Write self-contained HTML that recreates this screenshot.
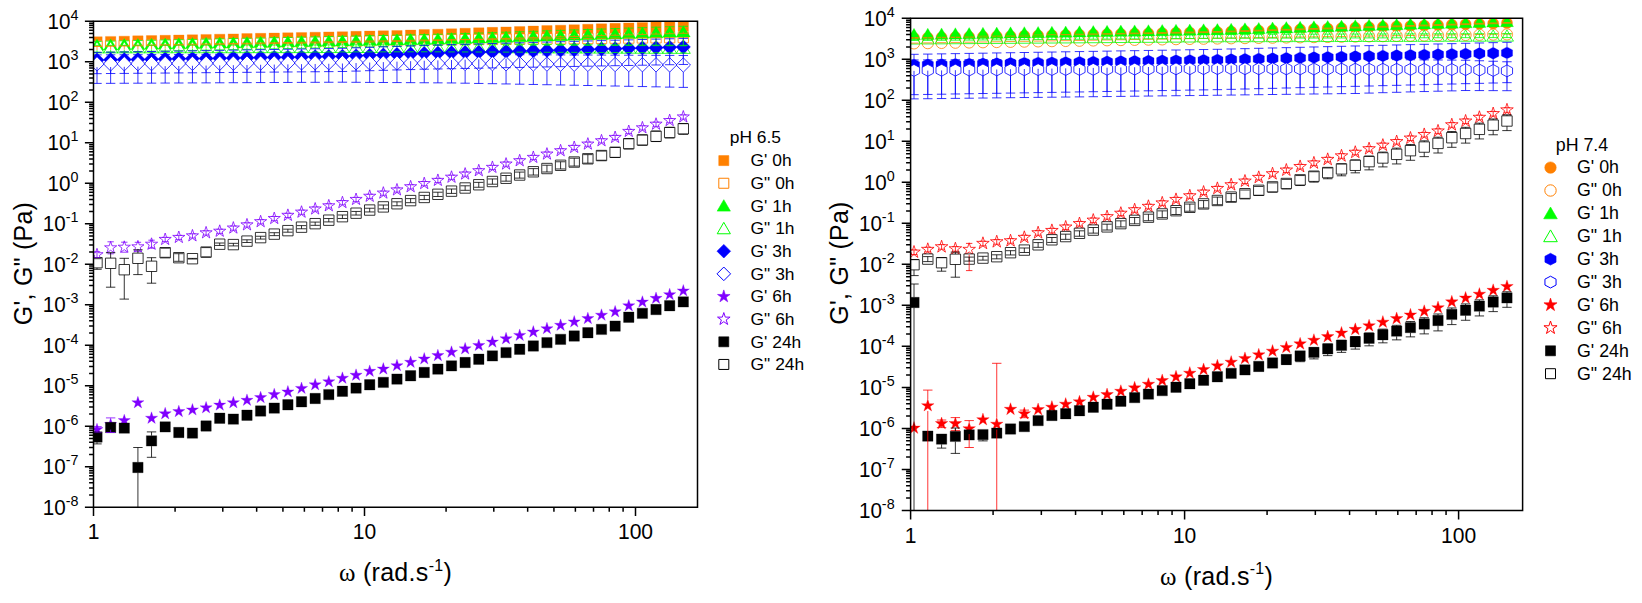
<!DOCTYPE html>
<html lang="en">
<head>
<meta charset="utf-8">
<title>G', G'' frequency sweeps at pH 6.5 and pH 7.4</title>
<style>
html,body{margin:0;padding:0;background:#fff;}
body{width:1642px;height:603px;overflow:hidden;}
svg{display:block;}
</style>
</head>
<body>
<svg width="1642" height="603" viewBox="0 0 1642 603" font-family="'Liberation Sans',Arial,sans-serif" fill="#000">
<rect width="1642" height="603" fill="#fff"/>
<clipPath id="cl"><rect x="93.5" y="21.3" width="604" height="485.9"/></clipPath>
<g clip-path="url(#cl)">
<path d="M91.8 36.7h10.4v10.4h-10.4zM105.44 36.42h10.4v10.4h-10.4zM119.07 36.14h10.4v10.4h-10.4zM132.71 35.85h10.4v10.4h-10.4zM146.34 35.57h10.4v10.4h-10.4zM159.98 35.29h10.4v10.4h-10.4zM173.61 35.01h10.4v10.4h-10.4zM187.25 34.73h10.4v10.4h-10.4zM200.88 34.45h10.4v10.4h-10.4zM214.52 34.16h10.4v10.4h-10.4zM228.15 33.88h10.4v10.4h-10.4zM241.78 33.6h10.4v10.4h-10.4zM255.42 33.32h10.4v10.4h-10.4zM269.06 33.04h10.4v10.4h-10.4zM282.69 32.75h10.4v10.4h-10.4zM296.32 32.47h10.4v10.4h-10.4zM309.96 32.19h10.4v10.4h-10.4zM323.59 31.91h10.4v10.4h-10.4zM337.23 31.63h10.4v10.4h-10.4zM350.87 31.35h10.4v10.4h-10.4zM364.5 31.06h10.4v10.4h-10.4zM378.13 30.78h10.4v10.4h-10.4zM391.77 30.5h10.4v10.4h-10.4zM405.41 30.05h10.4v10.4h-10.4zM419.04 29.6h10.4v10.4h-10.4zM432.68 29.16h10.4v10.4h-10.4zM446.31 28.71h10.4v10.4h-10.4zM459.94 28.26h10.4v10.4h-10.4zM473.58 27.81h10.4v10.4h-10.4zM487.22 27.37h10.4v10.4h-10.4zM500.85 26.92h10.4v10.4h-10.4zM514.48 26.47h10.4v10.4h-10.4zM528.12 26.02h10.4v10.4h-10.4zM541.75 25.58h10.4v10.4h-10.4zM555.39 25.13h10.4v10.4h-10.4zM569.02 24.68h10.4v10.4h-10.4zM582.66 24.23h10.4v10.4h-10.4zM596.29 23.79h10.4v10.4h-10.4zM609.93 23.34h10.4v10.4h-10.4zM623.56 22.89h10.4v10.4h-10.4zM637.2 22.44h10.4v10.4h-10.4zM650.83 22h10.4v10.4h-10.4zM664.47 21.55h10.4v10.4h-10.4zM678.1 21.1h10.4v10.4h-10.4z" fill="#ff8000" stroke="#ff8000" stroke-width="0.3"/>
<path d="M91.8 40.8h10.4v10.4h-10.4zM105.44 40.55h10.4v10.4h-10.4zM119.07 40.31h10.4v10.4h-10.4zM132.71 40.06h10.4v10.4h-10.4zM146.34 39.82h10.4v10.4h-10.4zM159.98 39.57h10.4v10.4h-10.4zM173.61 39.32h10.4v10.4h-10.4zM187.25 39.08h10.4v10.4h-10.4zM200.88 38.83h10.4v10.4h-10.4zM214.52 38.59h10.4v10.4h-10.4zM228.15 38.34h10.4v10.4h-10.4zM241.78 38.1h10.4v10.4h-10.4zM255.42 37.85h10.4v10.4h-10.4zM269.06 37.6h10.4v10.4h-10.4zM282.69 37.36h10.4v10.4h-10.4zM296.32 37.11h10.4v10.4h-10.4zM309.96 36.87h10.4v10.4h-10.4zM323.59 36.62h10.4v10.4h-10.4zM337.23 36.37h10.4v10.4h-10.4zM350.87 36.13h10.4v10.4h-10.4zM364.5 35.88h10.4v10.4h-10.4zM378.13 35.64h10.4v10.4h-10.4zM391.77 35.39h10.4v10.4h-10.4zM405.41 35.14h10.4v10.4h-10.4zM419.04 34.9h10.4v10.4h-10.4zM432.68 34.72h10.4v10.4h-10.4zM446.31 34.58h10.4v10.4h-10.4zM459.94 34.45h10.4v10.4h-10.4zM473.58 34.32h10.4v10.4h-10.4zM487.22 34.18h10.4v10.4h-10.4zM500.85 34.05h10.4v10.4h-10.4zM514.48 33.91h10.4v10.4h-10.4zM528.12 33.78h10.4v10.4h-10.4zM541.75 33.64h10.4v10.4h-10.4zM555.39 33.51h10.4v10.4h-10.4zM569.02 33.38h10.4v10.4h-10.4zM582.66 33.24h10.4v10.4h-10.4zM596.29 33.11h10.4v10.4h-10.4zM609.93 32.97h10.4v10.4h-10.4zM623.56 32.84h10.4v10.4h-10.4zM637.2 32.7h10.4v10.4h-10.4zM650.83 32.57h10.4v10.4h-10.4zM664.47 32.43h10.4v10.4h-10.4zM678.1 32.3h10.4v10.4h-10.4z" fill="#fff" stroke="#ff8000" stroke-width="0.8"/>
<path d="M97 39.1L104 50.3L90 50.3zM110.64 38.86L117.64 50.06L103.64 50.06zM124.27 38.62L131.27 49.82L117.27 49.82zM137.91 38.38L144.91 49.58L130.91 49.58zM151.54 38.13L158.54 49.33L144.54 49.33zM165.18 37.89L172.18 49.09L158.18 49.09zM178.81 37.65L185.81 48.85L171.81 48.85zM192.44 37.41L199.44 48.61L185.44 48.61zM206.08 37.17L213.08 48.37L199.08 48.37zM219.72 36.92L226.72 48.12L212.72 48.12zM233.35 36.68L240.35 47.88L226.35 47.88zM246.98 36.44L253.98 47.64L239.98 47.64zM260.62 36.2L267.62 47.4L253.62 47.4zM274.25 35.96L281.25 47.16L267.25 47.16zM287.89 35.72L294.89 46.92L280.89 46.92zM301.52 35.48L308.52 46.68L294.52 46.68zM315.16 35.23L322.16 46.43L308.16 46.43zM328.79 34.99L335.79 46.19L321.79 46.19zM342.43 34.75L349.43 45.95L335.43 45.95zM356.06 34.51L363.06 45.71L349.06 45.71zM369.7 34.27L376.7 45.47L362.7 45.47zM383.33 34.02L390.33 45.23L376.33 45.23zM396.97 33.78L403.97 44.98L389.97 44.98zM410.61 33.54L417.61 44.74L403.61 44.74zM424.24 33.3L431.24 44.5L417.24 44.5zM437.88 32.94L444.88 44.14L430.88 44.14zM451.51 32.58L458.51 43.78L444.51 43.78zM465.14 32.22L472.14 43.42L458.14 43.42zM478.78 31.86L485.78 43.06L471.78 43.06zM492.42 31.5L499.42 42.7L485.42 42.7zM506.05 31.09L513.05 42.29L499.05 42.29zM519.68 30.67L526.68 41.87L512.68 41.87zM533.32 30.26L540.32 41.46L526.32 41.46zM546.95 29.84L553.95 41.04L539.95 41.04zM560.59 29.43L567.59 40.63L553.59 40.63zM574.22 29.01L581.22 40.21L567.22 40.21zM587.86 28.6L594.86 39.8L580.86 39.8zM601.5 28.19L608.5 39.39L594.5 39.39zM615.13 27.77L622.13 38.97L608.13 38.97zM628.76 27.36L635.76 38.56L621.76 38.56zM642.4 26.94L649.4 38.14L635.4 38.14zM656.03 26.53L663.03 37.73L649.03 37.73zM669.67 26.11L676.67 37.31L662.67 37.31zM683.3 25.7L690.3 36.9L676.3 36.9z" fill="#00ff00" stroke="#00ff00" stroke-width="0.3"/>
<path d="M97 41.7L104 52.9L90 52.9zM110.64 41.68L117.64 52.88L103.64 52.88zM124.27 41.66L131.27 52.86L117.27 52.86zM137.91 41.64L144.91 52.84L130.91 52.84zM151.54 41.62L158.54 52.82L144.54 52.82zM165.18 41.6L172.18 52.8L158.18 52.8zM178.81 41.57L185.81 52.77L171.81 52.77zM192.44 41.55L199.44 52.75L185.44 52.75zM206.08 41.53L213.08 52.73L199.08 52.73zM219.72 41.51L226.72 52.71L212.72 52.71zM233.35 41.49L240.35 52.69L226.35 52.69zM246.98 41.47L253.98 52.67L239.98 52.67zM260.62 41.45L267.62 52.65L253.62 52.65zM274.25 41.43L281.25 52.63L267.25 52.63zM287.89 41.41L294.89 52.61L280.89 52.61zM301.52 41.39L308.52 52.59L294.52 52.59zM315.16 41.37L322.16 52.57L308.16 52.57zM328.79 41.35L335.79 52.55L321.79 52.55zM342.43 41.32L349.43 52.52L335.43 52.52zM356.06 41.3L363.06 52.5L349.06 52.5zM369.7 41.28L376.7 52.48L362.7 52.48zM383.33 41.26L390.33 52.46L376.33 52.46zM396.97 41.24L403.97 52.44L389.97 52.44zM410.61 41.22L417.61 52.42L403.61 52.42zM424.24 41.2L431.24 52.4L417.24 52.4zM437.88 41.25L444.88 52.45L430.88 52.45zM451.51 41.31L458.51 52.51L444.51 52.51zM465.14 41.36L472.14 52.56L458.14 52.56zM478.78 41.41L485.78 52.61L471.78 52.61zM492.42 41.46L499.42 52.66L485.42 52.66zM506.05 41.52L513.05 52.72L499.05 52.72zM519.68 41.57L526.68 52.77L512.68 52.77zM533.32 41.62L540.32 52.82L526.32 52.82zM546.95 41.67L553.95 52.87L539.95 52.87zM560.59 41.73L567.59 52.93L553.59 52.93zM574.22 41.78L581.22 52.98L567.22 52.98zM587.86 41.83L594.86 53.03L580.86 53.03zM601.5 41.88L608.5 53.08L594.5 53.08zM615.13 41.94L622.13 53.14L608.13 53.14zM628.76 41.99L635.76 53.19L621.76 53.19zM642.4 42.04L649.4 53.24L635.4 53.24zM656.03 42.09L663.03 53.29L649.03 53.29zM669.67 42.15L676.67 53.35L662.67 53.35zM683.3 42.2L690.3 53.4L676.3 53.4z" fill="#fff" stroke="#00ff00" stroke-width="0.8"/>
<path d="M97 52.8L104.2 60L97 67.2L89.8 60zM110.64 52.6L117.84 59.8L110.64 67L103.44 59.8zM124.27 52.4L131.47 59.6L124.27 66.8L117.07 59.6zM137.91 52.19L145.1 59.39L137.91 66.59L130.71 59.39zM151.54 51.99L158.74 59.19L151.54 66.39L144.34 59.19zM165.18 51.79L172.38 58.99L165.18 66.19L157.98 58.99zM178.81 51.59L186.01 58.79L178.81 65.99L171.61 58.79zM192.44 51.38L199.64 58.58L192.44 65.78L185.25 58.58zM206.08 51.18L213.28 58.38L206.08 65.58L198.88 58.38zM219.72 50.98L226.91 58.18L219.72 65.38L212.52 58.18zM233.35 50.78L240.55 57.98L233.35 65.18L226.15 57.98zM246.98 50.58L254.18 57.78L246.98 64.98L239.78 57.78zM260.62 50.37L267.82 57.57L260.62 64.77L253.42 57.57zM274.25 50.17L281.45 57.37L274.25 64.57L267.06 57.37zM287.89 49.97L295.09 57.17L287.89 64.37L280.69 57.17zM301.52 49.77L308.72 56.97L301.52 64.17L294.32 56.97zM315.16 49.56L322.36 56.76L315.16 63.96L307.96 56.76zM328.79 49.36L335.99 56.56L328.79 63.76L321.59 56.56zM342.43 49.11L349.63 56.31L342.43 63.51L335.23 56.31zM356.06 48.64L363.26 55.84L356.06 63.04L348.87 55.84zM369.7 48.17L376.9 55.37L369.7 62.57L362.5 55.37zM383.33 47.7L390.53 54.9L383.33 62.1L376.13 54.9zM396.97 47.24L404.17 54.44L396.97 61.64L389.77 54.44zM410.61 46.77L417.81 53.97L410.61 61.17L403.41 53.97zM424.24 46.3L431.44 53.5L424.24 60.7L417.04 53.5zM437.88 45.96L445.07 53.16L437.88 60.36L430.68 53.16zM451.51 45.62L458.71 52.82L451.51 60.02L444.31 52.82zM465.14 45.27L472.34 52.47L465.14 59.67L457.94 52.47zM478.78 44.93L485.98 52.13L478.78 59.33L471.58 52.13zM492.42 44.59L499.62 51.79L492.42 58.99L485.22 51.79zM506.05 44.25L513.25 51.45L506.05 58.65L498.85 51.45zM519.68 43.91L526.88 51.11L519.68 58.31L512.48 51.11zM533.32 43.56L540.52 50.76L533.32 57.96L526.12 50.76zM546.95 43.22L554.15 50.42L546.95 57.62L539.75 50.42zM560.59 42.88L567.79 50.08L560.59 57.28L553.39 50.08zM574.22 42.54L581.42 49.74L574.22 56.94L567.02 49.74zM587.86 42.19L595.06 49.39L587.86 56.59L580.66 49.39zM601.5 41.85L608.7 49.05L601.5 56.25L594.29 49.05zM615.13 41.51L622.33 48.71L615.13 55.91L607.93 48.71zM628.76 41.17L635.97 48.37L628.76 55.57L621.56 48.37zM642.4 40.83L649.6 48.03L642.4 55.23L635.2 48.03zM656.03 40.48L663.24 47.68L656.03 54.88L648.83 47.68zM669.67 40.14L676.87 47.34L669.67 54.54L662.47 47.34zM683.3 39.8L690.5 47L683.3 54.2L676.1 47z" fill="#0000ff" stroke="#0000ff" stroke-width="0.3"/>
<path d="M97 56.7L104.2 63.9L97 71.1L89.8 63.9zM110.64 56.63L117.84 63.83L110.64 71.03L103.44 63.83zM124.27 56.57L131.47 63.77L124.27 70.97L117.07 63.77zM137.91 56.5L145.1 63.7L137.91 70.9L130.71 63.7zM151.54 56.43L158.74 63.63L151.54 70.83L144.34 63.63zM165.18 56.36L172.38 63.56L165.18 70.76L157.98 63.56zM178.81 56.3L186.01 63.5L178.81 70.7L171.61 63.5zM192.44 56.23L199.64 63.43L192.44 70.63L185.25 63.43zM206.08 56.16L213.28 63.36L206.08 70.56L198.88 63.36zM219.72 56.09L226.91 63.29L219.72 70.49L212.52 63.29zM233.35 56.03L240.55 63.23L233.35 70.43L226.15 63.23zM246.98 55.96L254.18 63.16L246.98 70.36L239.78 63.16zM260.62 55.89L267.82 63.09L260.62 70.29L253.42 63.09zM274.25 55.82L281.45 63.02L274.25 70.22L267.06 63.02zM287.89 55.76L295.09 62.96L287.89 70.16L280.69 62.96zM301.52 55.69L308.72 62.89L301.52 70.09L294.32 62.89zM315.16 55.62L322.36 62.82L315.16 70.02L307.96 62.82zM328.79 55.55L335.99 62.75L328.79 69.95L321.59 62.75zM342.43 55.52L349.63 62.72L342.43 69.92L335.23 62.72zM356.06 55.61L363.26 62.81L356.06 70.01L348.87 62.81zM369.7 55.7L376.9 62.9L369.7 70.1L362.5 62.9zM383.33 55.79L390.53 62.99L383.33 70.19L376.13 62.99zM396.97 55.88L404.17 63.08L396.97 70.28L389.77 63.08zM410.61 55.97L417.81 63.17L410.61 70.37L403.41 63.17zM424.24 56.07L431.44 63.27L424.24 70.47L417.04 63.27zM437.88 56.16L445.07 63.36L437.88 70.56L430.68 63.36zM451.51 56.25L458.71 63.45L451.51 70.65L444.31 63.45zM465.14 56.34L472.34 63.54L465.14 70.74L457.94 63.54zM478.78 56.43L485.98 63.63L478.78 70.83L471.58 63.63zM492.42 56.52L499.62 63.72L492.42 70.92L485.22 63.72zM506.05 56.61L513.25 63.81L506.05 71.01L498.85 63.81zM519.68 56.7L526.88 63.9L519.68 71.1L512.48 63.9zM533.32 56.8L540.52 64L533.32 71.2L526.12 64zM546.95 56.89L554.15 64.09L546.95 71.29L539.75 64.09zM560.59 56.98L567.79 64.18L560.59 71.38L553.39 64.18zM574.22 57.07L581.42 64.27L574.22 71.47L567.02 64.27zM587.86 57.16L595.06 64.36L587.86 71.56L580.66 64.36zM601.5 57.25L608.7 64.45L601.5 71.65L594.29 64.45zM615.13 57.34L622.33 64.54L615.13 71.74L607.93 64.54zM628.76 57.43L635.97 64.63L628.76 71.83L621.56 64.63zM642.4 57.53L649.6 64.73L642.4 71.93L635.2 64.73zM656.03 57.62L663.24 64.82L656.03 72.02L648.83 64.82zM669.67 57.71L676.87 64.91L669.67 72.11L662.47 64.91zM683.3 57.8L690.5 65L683.3 72.2L676.1 65z" fill="#fff" stroke="#0000ff" stroke-width="0.8"/>
<path d="M97 423.2L98.44 427.62L103.09 427.62L99.33 430.36L100.76 434.78L97 432.04L93.24 434.78L94.67 430.36L90.91 427.62L95.56 427.62zM110.64 418.1L112.07 422.52L116.72 422.52L112.96 425.26L114.4 429.68L110.64 426.94L106.87 429.68L108.31 425.26L104.55 422.52L109.2 422.52zM124.27 414.2L125.71 418.62L130.36 418.62L126.6 421.36L128.03 425.78L124.27 423.04L120.51 425.78L121.94 421.36L118.18 418.62L122.83 418.62zM137.91 396.3L139.34 400.72L143.99 400.72L140.23 403.46L141.67 407.88L137.91 405.14L134.14 407.88L135.58 403.46L131.82 400.72L136.47 400.72zM151.54 411.8L152.98 416.22L157.63 416.22L153.87 418.96L155.3 423.38L151.54 420.64L147.78 423.38L149.21 418.96L145.45 416.22L150.1 416.22zM165.18 407.3L166.61 411.72L171.26 411.72L167.5 414.46L168.94 418.88L165.18 416.14L161.41 418.88L162.85 414.46L159.09 411.72L163.74 411.72zM178.81 405.2L180.25 409.62L184.9 409.62L181.14 412.36L182.57 416.78L178.81 414.04L175.05 416.78L176.48 412.36L172.72 409.62L177.37 409.62zM192.44 403.5L193.88 407.92L198.53 407.92L194.77 410.66L196.21 415.08L192.44 412.34L188.68 415.08L190.12 410.66L186.36 407.92L191.01 407.92zM206.08 401.4L207.52 405.82L212.17 405.82L208.41 408.56L209.84 412.98L206.08 410.24L202.32 412.98L203.75 408.56L199.99 405.82L204.64 405.82zM219.72 398.7L221.15 403.12L225.8 403.12L222.04 405.86L223.48 410.28L219.72 407.54L215.95 410.28L217.39 405.86L213.63 403.12L218.28 403.12zM233.35 396.3L234.79 400.72L239.44 400.72L235.68 403.46L237.11 407.88L233.35 405.14L229.59 407.88L231.02 403.46L227.26 400.72L231.91 400.72zM246.98 393.9L248.42 398.32L253.07 398.32L249.31 401.06L250.75 405.48L246.98 402.74L243.22 405.48L244.66 401.06L240.9 398.32L245.55 398.32zM260.62 391.2L262.06 395.62L266.71 395.62L262.95 398.36L264.38 402.78L260.62 400.04L256.86 402.78L258.29 398.36L254.53 395.62L259.18 395.62zM274.25 388.2L275.69 392.62L280.34 392.62L276.58 395.36L278.02 399.78L274.25 397.04L270.49 399.78L271.93 395.36L268.17 392.62L272.82 392.62zM287.89 385.5L289.33 389.92L293.98 389.92L290.22 392.66L291.65 397.08L287.89 394.34L284.13 397.08L285.56 392.66L281.8 389.92L286.45 389.92zM301.52 382L302.96 386.42L307.61 386.42L303.85 389.16L305.29 393.58L301.52 390.84L297.76 393.58L299.2 389.16L295.44 386.42L300.09 386.42zM315.16 378.4L316.6 382.82L321.25 382.82L317.49 385.56L318.92 389.98L315.16 387.24L311.4 389.98L312.83 385.56L309.07 382.82L313.72 382.82zM328.79 375.4L330.23 379.82L334.88 379.82L331.12 382.56L332.56 386.98L328.79 384.24L325.03 386.98L326.47 382.56L322.71 379.82L327.36 379.82zM342.43 371.8L343.87 376.22L348.52 376.22L344.76 378.96L346.19 383.38L342.43 380.64L338.67 383.38L340.1 378.96L336.34 376.22L340.99 376.22zM356.06 368.8L357.5 373.22L362.15 373.22L358.39 375.96L359.83 380.38L356.06 377.64L352.3 380.38L353.74 375.96L349.98 373.22L354.63 373.22zM369.7 364.9L371.14 369.32L375.79 369.32L372.03 372.06L373.46 376.48L369.7 373.74L365.94 376.48L367.37 372.06L363.61 369.32L368.26 369.32zM383.33 362.6L384.77 367.02L389.42 367.02L385.66 369.76L387.1 374.18L383.33 371.44L379.57 374.18L381.01 369.76L377.25 367.02L381.9 367.02zM396.97 359.24L398.41 363.66L403.06 363.66L399.3 366.39L400.73 370.81L396.97 368.08L393.21 370.81L394.64 366.39L390.88 363.66L395.53 363.66zM410.61 355.87L412.04 360.29L416.69 360.29L412.93 363.03L414.37 367.45L410.61 364.72L406.84 367.45L408.28 363.03L404.52 360.29L409.17 360.29zM424.24 352.51L425.68 356.93L430.33 356.93L426.57 359.66L428 364.08L424.24 361.35L420.48 364.08L421.91 359.66L418.15 356.93L422.8 356.93zM437.88 349.14L439.31 353.56L443.96 353.56L440.2 356.3L441.64 360.72L437.88 357.99L434.11 360.72L435.55 356.3L431.79 353.56L436.44 353.56zM451.51 345.78L452.95 350.2L457.6 350.2L453.84 352.93L455.27 357.35L451.51 354.62L447.75 357.35L449.18 352.93L445.42 350.2L450.07 350.2zM465.14 342.41L466.58 346.83L471.23 346.83L467.47 349.57L468.91 353.99L465.14 351.26L461.38 353.99L462.82 349.57L459.06 346.83L463.71 346.83zM478.78 339.05L480.22 343.47L484.87 343.47L481.11 346.2L482.54 350.62L478.78 347.89L475.02 350.62L476.45 346.2L472.69 343.47L477.34 343.47zM492.42 335.68L493.85 340.1L498.5 340.1L494.74 342.84L496.18 347.26L492.42 344.53L488.65 347.26L490.09 342.84L486.33 340.1L490.98 340.1zM506.05 332.32L507.49 336.74L512.14 336.74L508.38 339.47L509.81 343.9L506.05 341.16L502.29 343.9L503.72 339.47L499.96 336.74L504.61 336.74zM519.68 328.95L521.12 333.38L525.77 333.38L522.01 336.11L523.45 340.53L519.68 337.8L515.92 340.53L517.36 336.11L513.6 333.38L518.25 333.38zM533.32 325.59L534.76 330.01L539.41 330.01L535.65 332.74L537.08 337.17L533.32 334.43L529.56 337.17L530.99 332.74L527.23 330.01L531.88 330.01zM546.95 322.22L548.39 326.65L553.04 326.65L549.28 329.38L550.72 333.8L546.95 331.07L543.19 333.8L544.63 329.38L540.87 326.65L545.52 326.65zM560.59 318.86L562.03 323.28L566.68 323.28L562.92 326.01L564.35 330.44L560.59 327.7L556.83 330.44L558.26 326.01L554.5 323.28L559.15 323.28zM574.22 315.49L575.66 319.92L580.31 319.92L576.55 322.65L577.99 327.07L574.22 324.34L570.46 327.07L571.9 322.65L568.14 319.92L572.79 319.92zM587.86 312.13L589.3 316.55L593.95 316.55L590.19 319.28L591.62 323.71L587.86 320.97L584.1 323.71L585.53 319.28L581.77 316.55L586.42 316.55zM601.5 308.76L602.93 313.19L607.58 313.19L603.82 315.92L605.26 320.34L601.5 317.61L597.73 320.34L599.17 315.92L595.41 313.19L600.06 313.19zM615.13 305.4L616.57 309.82L621.22 309.82L617.46 312.56L618.89 316.98L615.13 314.24L611.37 316.98L612.8 312.56L609.04 309.82L613.69 309.82zM628.76 299.4L630.2 303.82L634.85 303.82L631.09 306.56L632.53 310.98L628.76 308.24L625 310.98L626.44 306.56L622.68 303.82L627.33 303.82zM642.4 295.68L643.84 300.1L648.49 300.1L644.73 302.83L646.16 307.25L642.4 304.52L638.64 307.25L640.07 302.83L636.31 300.1L640.96 300.1zM656.03 291.95L657.47 296.37L662.12 296.37L658.36 299.11L659.8 303.53L656.03 300.79L652.27 303.53L653.71 299.11L649.95 296.37L654.6 296.37zM669.67 288.23L671.11 292.65L675.76 292.65L672 295.38L673.43 299.8L669.67 297.07L665.91 299.8L667.34 295.38L663.58 292.65L668.23 292.65zM683.3 284.5L684.74 288.92L689.39 288.92L685.63 291.66L687.07 296.08L683.3 293.34L679.54 296.08L680.98 291.66L677.22 288.92L681.87 288.92z" fill="#8000ff" stroke="#8000ff" stroke-width="0.3"/>
<path d="M97 248.3L98.44 252.72L103.09 252.72L99.33 255.46L100.76 259.88L97 257.14L93.24 259.88L94.67 255.46L90.91 252.72L95.56 252.72zM110.64 241.4L112.07 245.82L116.72 245.82L112.96 248.56L114.4 252.98L110.64 250.24L106.87 252.98L108.31 248.56L104.55 245.82L109.2 245.82zM124.27 240.8L125.71 245.22L130.36 245.22L126.6 247.96L128.03 252.38L124.27 249.64L120.51 252.38L121.94 247.96L118.18 245.22L122.83 245.22zM137.91 240.4L139.34 244.82L143.99 244.82L140.23 247.56L141.67 251.98L137.91 249.24L134.14 251.98L135.58 247.56L131.82 244.82L136.47 244.82zM151.54 237.8L152.98 242.22L157.63 242.22L153.87 244.96L155.3 249.38L151.54 246.64L147.78 249.38L149.21 244.96L145.45 242.22L150.1 242.22zM165.18 233L166.61 237.42L171.26 237.42L167.5 240.16L168.94 244.58L165.18 241.84L161.41 244.58L162.85 240.16L159.09 237.42L163.74 237.42zM178.81 231L180.25 235.42L184.9 235.42L181.14 238.16L182.57 242.58L178.81 239.84L175.05 242.58L176.48 238.16L172.72 235.42L177.37 235.42zM192.44 229.4L193.88 233.82L198.53 233.82L194.77 236.56L196.21 240.98L192.44 238.24L188.68 240.98L190.12 236.56L186.36 233.82L191.01 233.82zM206.08 226.4L207.52 230.82L212.17 230.82L208.41 233.56L209.84 237.98L206.08 235.24L202.32 237.98L203.75 233.56L199.99 230.82L204.64 230.82zM219.72 224.8L221.15 229.22L225.8 229.22L222.04 231.96L223.48 236.38L219.72 233.64L215.95 236.38L217.39 231.96L213.63 229.22L218.28 229.22zM233.35 221.6L234.79 226.02L239.44 226.02L235.68 228.76L237.11 233.18L233.35 230.44L229.59 233.18L231.02 228.76L227.26 226.02L231.91 226.02zM246.98 218.42L248.42 222.85L253.07 222.85L249.31 225.58L250.75 230L246.98 227.27L243.22 230L244.66 225.58L240.9 222.85L245.55 222.85zM260.62 215.25L262.06 219.67L266.71 219.67L262.95 222.4L264.38 226.82L260.62 224.09L256.86 226.82L258.29 222.4L254.53 219.67L259.18 219.67zM274.25 212.07L275.69 216.49L280.34 216.49L276.58 219.23L278.02 223.65L274.25 220.92L270.49 223.65L271.93 219.23L268.17 216.49L272.82 216.49zM287.89 208.89L289.33 213.32L293.98 213.32L290.22 216.05L291.65 220.47L287.89 217.74L284.13 220.47L285.56 216.05L281.8 213.32L286.45 213.32zM301.52 205.72L302.96 210.14L307.61 210.14L303.85 212.87L305.29 217.3L301.52 214.56L297.76 217.3L299.2 212.87L295.44 210.14L300.09 210.14zM315.16 202.54L316.6 206.96L321.25 206.96L317.49 209.7L318.92 214.12L315.16 211.39L311.4 214.12L312.83 209.7L309.07 206.96L313.72 206.96zM328.79 199.36L330.23 203.79L334.88 203.79L331.12 206.52L332.56 210.94L328.79 208.21L325.03 210.94L326.47 206.52L322.71 203.79L327.36 203.79zM342.43 196.19L343.87 200.61L348.52 200.61L344.76 203.34L346.19 207.77L342.43 205.03L338.67 207.77L340.1 203.34L336.34 200.61L340.99 200.61zM356.06 193.01L357.5 197.43L362.15 197.43L358.39 200.17L359.83 204.59L356.06 201.86L352.3 204.59L353.74 200.17L349.98 197.43L354.63 197.43zM369.7 189.84L371.14 194.26L375.79 194.26L372.03 196.99L373.46 201.41L369.7 198.68L365.94 201.41L367.37 196.99L363.61 194.26L368.26 194.26zM383.33 186.66L384.77 191.08L389.42 191.08L385.66 193.81L387.1 198.24L383.33 195.5L379.57 198.24L381.01 193.81L377.25 191.08L381.9 191.08zM396.97 183.48L398.41 187.9L403.06 187.9L399.3 190.64L400.73 195.06L396.97 192.33L393.21 195.06L394.64 190.64L390.88 187.9L395.53 187.9zM410.61 180.31L412.04 184.73L416.69 184.73L412.93 187.46L414.37 191.88L410.61 189.15L406.84 191.88L408.28 187.46L404.52 184.73L409.17 184.73zM424.24 177.13L425.68 181.55L430.33 181.55L426.57 184.28L428 188.71L424.24 185.97L420.48 188.71L421.91 184.28L418.15 181.55L422.8 181.55zM437.88 173.95L439.31 178.38L443.96 178.38L440.2 181.11L441.64 185.53L437.88 182.8L434.11 185.53L435.55 181.11L431.79 178.38L436.44 178.38zM451.51 170.78L452.95 175.2L457.6 175.2L453.84 177.93L455.27 182.35L451.51 179.62L447.75 182.35L449.18 177.93L445.42 175.2L450.07 175.2zM465.14 167.6L466.58 172.02L471.23 172.02L467.47 174.76L468.91 179.18L465.14 176.44L461.38 179.18L462.82 174.76L459.06 172.02L463.71 172.02zM478.78 164.27L480.22 168.69L484.87 168.7L481.11 171.43L482.54 175.85L478.78 173.12L475.02 175.85L476.45 171.43L472.69 168.7L477.34 168.69zM492.42 160.95L493.85 165.37L498.5 165.37L494.74 168.1L496.18 172.52L492.42 169.79L488.65 172.52L490.09 168.1L486.33 165.37L490.98 165.37zM506.05 157.62L507.49 162.04L512.14 162.04L508.38 164.77L509.81 169.2L506.05 166.46L502.29 169.2L503.72 164.77L499.96 162.04L504.61 162.04zM519.68 154.29L521.12 158.71L525.77 158.71L522.01 161.45L523.45 165.87L519.68 163.14L515.92 165.87L517.36 161.45L513.6 158.71L518.25 158.71zM533.32 150.96L534.76 155.39L539.41 155.39L535.65 158.12L537.08 162.54L533.32 159.81L529.56 162.54L530.99 158.12L527.23 155.39L531.88 155.39zM546.95 147.64L548.39 152.06L553.04 152.06L549.28 154.79L550.72 159.21L546.95 156.48L543.19 159.21L544.63 154.79L540.87 152.06L545.52 152.06zM560.59 144.31L562.03 148.73L566.68 148.73L562.92 151.46L564.35 155.89L560.59 153.15L556.83 155.89L558.26 151.46L554.5 148.73L559.15 148.73zM574.22 140.98L575.66 145.4L580.31 145.4L576.55 148.14L577.99 152.56L574.22 149.83L570.46 152.56L571.9 148.14L568.14 145.4L572.79 145.4zM587.86 137.65L589.3 142.08L593.95 142.08L590.19 144.81L591.62 149.23L587.86 146.5L584.1 149.23L585.53 144.81L581.77 142.08L586.42 142.08zM601.5 134.33L602.93 138.75L607.58 138.75L603.82 141.48L605.26 145.9L601.5 143.17L597.73 145.9L599.17 141.48L595.41 138.75L600.06 138.75zM615.13 131L616.57 135.42L621.22 135.42L617.46 138.16L618.89 142.58L615.13 139.84L611.37 142.58L612.8 138.16L609.04 135.42L613.69 135.42zM628.76 125L630.2 129.42L634.85 129.42L631.09 132.16L632.53 136.58L628.76 133.84L625 136.58L626.44 132.16L622.68 129.42L627.33 129.42zM642.4 121.38L643.84 125.8L648.49 125.8L644.73 128.53L646.16 132.95L642.4 130.22L638.64 132.95L640.07 128.53L636.31 125.8L640.96 125.8zM656.03 117.75L657.47 122.17L662.12 122.17L658.36 124.91L659.8 129.33L656.03 126.59L652.27 129.33L653.71 124.91L649.95 122.17L654.6 122.17zM669.67 114.12L671.11 118.55L675.76 118.55L672 121.28L673.43 125.7L669.67 122.97L665.91 125.7L667.34 121.28L663.58 118.55L668.23 118.55zM683.3 110.5L684.74 114.92L689.39 114.92L685.63 117.66L687.07 122.08L683.3 119.34L679.54 122.08L680.98 117.66L677.22 114.92L681.87 114.92z" fill="#fff" stroke="#8000ff" stroke-width="0.8"/>
<path d="M91.8 431.8h10.4v10.4h-10.4zM105.44 422.3h10.4v10.4h-10.4zM119.07 422.9h10.4v10.4h-10.4zM132.71 462.3h10.4v10.4h-10.4zM146.34 435.7h10.4v10.4h-10.4zM159.98 421.7h10.4v10.4h-10.4zM173.61 427.3h10.4v10.4h-10.4zM187.25 427.9h10.4v10.4h-10.4zM200.88 420.8h10.4v10.4h-10.4zM214.52 413h10.4v10.4h-10.4zM228.15 413.9h10.4v10.4h-10.4zM241.78 410h10.4v10.4h-10.4zM255.42 405.8h10.4v10.4h-10.4zM269.06 402.9h10.4v10.4h-10.4zM282.69 399.6h10.4v10.4h-10.4zM296.32 396.6h10.4v10.4h-10.4zM309.96 393.3h10.4v10.4h-10.4zM323.59 389.4h10.4v10.4h-10.4zM337.23 386.1h10.4v10.4h-10.4zM350.87 382.9h10.4v10.4h-10.4zM364.5 379.6h10.4v10.4h-10.4zM378.13 377.2h10.4v10.4h-10.4zM391.77 373.89h10.4v10.4h-10.4zM405.41 370.58h10.4v10.4h-10.4zM419.04 367.26h10.4v10.4h-10.4zM432.68 363.95h10.4v10.4h-10.4zM446.31 360.64h10.4v10.4h-10.4zM459.94 357.33h10.4v10.4h-10.4zM473.58 354.02h10.4v10.4h-10.4zM487.22 350.71h10.4v10.4h-10.4zM500.85 347.39h10.4v10.4h-10.4zM514.48 344.08h10.4v10.4h-10.4zM528.12 340.77h10.4v10.4h-10.4zM541.75 337.46h10.4v10.4h-10.4zM555.39 334.15h10.4v10.4h-10.4zM569.02 330.84h10.4v10.4h-10.4zM582.66 327.52h10.4v10.4h-10.4zM596.29 324.21h10.4v10.4h-10.4zM609.93 320.9h10.4v10.4h-10.4zM623.56 312h10.4v10.4h-10.4zM637.2 308.18h10.4v10.4h-10.4zM650.83 304.35h10.4v10.4h-10.4zM664.47 300.52h10.4v10.4h-10.4zM678.1 296.7h10.4v10.4h-10.4z" fill="#000000" stroke="#000000" stroke-width="0.3"/>
<path d="M91.8 257.5h10.4v10.4h-10.4zM105.44 258.1h10.4v10.4h-10.4zM119.07 264.5h10.4v10.4h-10.4zM132.71 253.1h10.4v10.4h-10.4zM146.34 261.1h10.4v10.4h-10.4zM159.98 247.5h10.4v10.4h-10.4zM173.61 252.5h10.4v10.4h-10.4zM187.25 253.5h10.4v10.4h-10.4zM200.88 246.9h10.4v10.4h-10.4zM214.52 239h10.4v10.4h-10.4zM228.15 239.4h10.4v10.4h-10.4zM241.78 235.91h10.4v10.4h-10.4zM255.42 232.42h10.4v10.4h-10.4zM269.06 228.93h10.4v10.4h-10.4zM282.69 225.44h10.4v10.4h-10.4zM296.32 221.96h10.4v10.4h-10.4zM309.96 218.47h10.4v10.4h-10.4zM323.59 214.98h10.4v10.4h-10.4zM337.23 211.49h10.4v10.4h-10.4zM350.87 208h10.4v10.4h-10.4zM364.5 204.85h10.4v10.4h-10.4zM378.13 201.7h10.4v10.4h-10.4zM391.77 198.55h10.4v10.4h-10.4zM405.41 195.4h10.4v10.4h-10.4zM419.04 192.25h10.4v10.4h-10.4zM432.68 189.1h10.4v10.4h-10.4zM446.31 185.95h10.4v10.4h-10.4zM459.94 182.8h10.4v10.4h-10.4zM473.58 179.55h10.4v10.4h-10.4zM487.22 176.31h10.4v10.4h-10.4zM500.85 173.06h10.4v10.4h-10.4zM514.48 169.82h10.4v10.4h-10.4zM528.12 166.57h10.4v10.4h-10.4zM541.75 163.33h10.4v10.4h-10.4zM555.39 160.08h10.4v10.4h-10.4zM569.02 156.84h10.4v10.4h-10.4zM582.66 153.59h10.4v10.4h-10.4zM596.29 150.35h10.4v10.4h-10.4zM609.93 147.1h10.4v10.4h-10.4zM623.56 138.5h10.4v10.4h-10.4zM637.2 134.78h10.4v10.4h-10.4zM650.83 131.05h10.4v10.4h-10.4zM664.47 127.33h10.4v10.4h-10.4zM678.1 123.6h10.4v10.4h-10.4z" fill="#fff" stroke="#000000" stroke-width="0.8"/>
<path d="M92.3 37.9h9.4M92.3 46.5h9.4M105.94 37.62h9.4M105.94 46.28h9.4M119.57 37.34h9.4M119.57 46.05h9.4M133.21 37.05h9.4M133.21 45.83h9.4M146.84 36.77h9.4M146.84 45.61h9.4M160.48 36.49h9.4M160.48 45.38h9.4M174.11 36.21h9.4M174.11 45.16h9.4M187.75 35.93h9.4M187.75 44.94h9.4M201.38 35.65h9.4M201.38 44.71h9.4M215.02 35.36h9.4M215.02 44.49h9.4M228.65 35.08h9.4M228.65 44.27h9.4M246.98 44V44.04M242.28 34.8h9.4M242.28 44.04h9.4M260.62 43.72V43.82M255.92 34.52h9.4M255.92 43.82h9.4M274.25 43.44V43.59M269.56 34.24h9.4M269.56 43.59h9.4M287.89 43.15V43.37M283.19 33.95h9.4M283.19 43.37h9.4M301.52 42.87V43.15M296.82 33.67h9.4M296.82 43.15h9.4M315.16 42.59V42.92M310.46 33.39h9.4M310.46 42.92h9.4M328.79 42.31V42.7M324.09 33.11h9.4M324.09 42.7h9.4M342.43 42.03V42.48M337.73 32.83h9.4M337.73 42.48h9.4M356.06 41.75V42.25M351.37 32.55h9.4M351.37 42.25h9.4M369.7 41.46V42.03M365 32.26h9.4M365 42.03h9.4M383.33 41.18V41.81M378.63 31.98h9.4M378.63 41.81h9.4M396.97 40.9V41.58M392.27 31.7h9.4M392.27 41.58h9.4M410.61 40.45V41.19M405.91 31.25h9.4M405.91 41.19h9.4M424.24 40V40.8M419.54 30.8h9.4M419.54 40.8h9.4M437.88 39.56V40.41M433.18 30.36h9.4M433.18 40.41h9.4M451.51 39.11V40.01M446.81 29.91h9.4M446.81 40.01h9.4M465.14 38.66V39.62M460.44 29.46h9.4M460.44 39.62h9.4M478.78 38.21V39.22M474.08 29.01h9.4M474.08 39.22h9.4M492.42 37.77V38.83M487.72 28.57h9.4M487.72 38.83h9.4M506.05 37.32V38.43M501.35 28.12h9.4M501.35 38.43h9.4M519.68 36.87V38.04M514.98 27.67h9.4M514.98 38.04h9.4M533.32 36.42V37.64M528.62 27.22h9.4M528.62 37.64h9.4M546.95 35.98V37.25M542.25 26.78h9.4M542.25 37.25h9.4M560.59 35.53V36.85M555.89 26.33h9.4M555.89 36.85h9.4M574.22 35.08V36.46M569.52 25.88h9.4M569.52 36.46h9.4M587.86 34.63V36.06M583.16 25.43h9.4M583.16 36.06h9.4M601.5 34.19V35.67M596.79 24.99h9.4M596.79 35.67h9.4M615.13 33.74V35.27M610.43 24.54h9.4M610.43 35.27h9.4M628.76 33.29V34.88M624.06 24.09h9.4M624.06 34.88h9.4M642.4 32.84V34.48M637.7 23.64h9.4M637.7 34.48h9.4M656.03 32.4V34.09M651.33 23.2h9.4M651.33 34.09h9.4M669.67 31.95V33.69M664.97 22.75h9.4M664.97 33.69h9.4M683.3 31.5V33.3M678.6 22.3h9.4M678.6 33.3h9.4" fill="none" stroke="#ff8000" stroke-width="0.8"/>
<path d="M97 45.95V50M92.3 45.95h9.4M110.64 45.7V49.75M105.94 45.7h9.4M124.27 45.46V49.51M119.57 45.46h9.4M137.91 45.21V49.26M133.21 45.21h9.4M151.54 44.97V49.02M146.84 44.97h9.4M165.18 44.72V48.77M160.48 44.72h9.4M178.81 44.47V48.52M174.11 44.47h9.4M192.44 44.23V48.28M187.75 44.23h9.4M206.08 43.98V48.03M201.38 43.98h9.4M219.72 43.74V47.79M215.02 43.74h9.4M233.35 43.49V47.54M228.65 43.49h9.4M246.98 43.25V47.3M242.28 43.25h9.4M260.62 43V47.05M255.92 43h9.4M274.25 42.75V46.8M269.56 42.75h9.4M287.89 42.51V46.56M283.19 42.51h9.4M301.52 42.26V46.31M296.82 42.26h9.4M315.16 42.02V46.07M310.46 42.02h9.4M328.79 41.77V45.82M324.09 41.77h9.4M342.43 41.52V45.57M337.73 41.52h9.4M356.06 41.28V45.33M351.37 41.28h9.4M369.7 41.03V45.08M365 41.03h9.4M383.33 40.79V44.84M378.63 40.79h9.4M396.97 40.54V44.59M392.27 40.54h9.4M410.61 40.29V44.34M405.91 40.29h9.4M424.24 40.05V44.1M419.54 40.05h9.4M437.88 39.87V43.92M433.18 39.87h9.4M451.51 39.73V43.78M446.81 39.73h9.4M465.14 39.6V43.65M460.44 39.6h9.4M478.78 39.47V43.52M474.08 39.47h9.4M492.42 39.33V43.38M487.72 39.33h9.4M506.05 39.2V43.25M501.35 39.2h9.4M519.68 39.06V43.11M514.98 39.06h9.4M533.32 38.93V42.98M528.62 38.93h9.4M546.95 38.79V42.84M542.25 38.79h9.4M560.59 38.66V42.71M555.89 38.66h9.4M574.22 38.53V42.58M569.52 38.53h9.4M587.86 38.39V42.44M583.16 38.39h9.4M601.5 38.26V42.31M596.79 38.26h9.4M615.13 38.12V42.17M610.43 38.12h9.4M628.76 37.99V42.04M624.06 37.99h9.4M642.4 37.85V41.9M637.7 37.85h9.4M656.03 37.72V41.77M651.33 37.72h9.4M669.67 37.58V41.63M664.97 37.58h9.4M683.3 37.45V41.5M678.6 37.45h9.4" fill="none" stroke="#ff8000" stroke-width="0.8"/>
<path d="M97 50.3V52.3M92.3 41.4h9.4M92.3 52.3h9.4M110.64 50.06V52.03M105.94 41.12h9.4M105.94 52.03h9.4M124.27 49.82V51.76M119.57 40.84h9.4M119.57 51.76h9.4M137.91 49.58V51.49M133.21 40.56h9.4M133.21 51.49h9.4M151.54 49.33V51.22M146.84 40.28h9.4M146.84 51.22h9.4M165.18 49.09V50.95M160.48 39.99h9.4M160.48 50.95h9.4M178.81 48.85V50.68M174.11 39.71h9.4M174.11 50.68h9.4M192.44 48.61V50.42M187.75 39.43h9.4M187.75 50.42h9.4M206.08 48.37V50.15M201.38 39.15h9.4M201.38 50.15h9.4M219.72 48.12V49.88M215.02 38.87h9.4M215.02 49.88h9.4M233.35 47.88V49.61M228.65 38.59h9.4M228.65 49.61h9.4M246.98 47.64V49.34M242.28 38.31h9.4M242.28 49.34h9.4M260.62 47.4V49.07M255.92 38.03h9.4M255.92 49.07h9.4M274.25 47.16V48.8M269.56 37.74h9.4M269.56 48.8h9.4M287.89 46.92V48.53M283.19 37.46h9.4M283.19 48.53h9.4M301.52 46.68V48.26M296.82 37.18h9.4M296.82 48.26h9.4M315.16 46.43V47.99M310.46 36.9h9.4M310.46 47.99h9.4M328.79 46.19V47.72M324.09 36.62h9.4M324.09 47.72h9.4M342.43 45.95V47.45M337.73 36.34h9.4M337.73 47.45h9.4M356.06 45.71V47.18M351.37 36.06h9.4M351.37 47.18h9.4M369.7 45.47V46.91M365 35.78h9.4M365 46.91h9.4M383.33 45.23V46.65M378.63 35.49h9.4M378.63 46.65h9.4M396.97 44.98V46.38M392.27 35.21h9.4M392.27 46.38h9.4M410.61 44.74V46.11M405.91 34.93h9.4M405.91 46.11h9.4M424.24 44.5V45.84M419.54 34.65h9.4M419.54 45.84h9.4M437.88 44.14V45.45M433.18 34.25h9.4M433.18 45.45h9.4M451.51 43.78V45.06M446.81 33.85h9.4M446.81 45.06h9.4M465.14 43.42V44.68M460.44 33.45h9.4M460.44 44.68h9.4M478.78 43.06V44.29M474.08 33.05h9.4M474.08 44.29h9.4M492.42 42.7V43.9M487.72 32.65h9.4M487.72 43.9h9.4M506.05 42.29V44.04M501.35 32.2h9.4M501.35 44.04h9.4M519.68 41.87V44.17M514.98 31.75h9.4M514.98 44.17h9.4M533.32 41.46V44.31M528.62 31.29h9.4M528.62 44.31h9.4M546.95 41.04V44.44M542.25 30.84h9.4M542.25 44.44h9.4M560.59 40.63V44.53M555.89 30.38h9.4M555.89 44.53h9.4M574.22 40.21V44.61M569.52 29.93h9.4M569.52 44.61h9.4M587.86 39.8V44.7M583.16 29.48h9.4M583.16 44.7h9.4M601.5 39.39V44.79M596.79 29.02h9.4M596.79 44.79h9.4M615.13 38.97V44.87M610.43 28.57h9.4M610.43 44.87h9.4M628.76 38.56V44.96M624.06 28.12h9.4M624.06 44.96h9.4M642.4 38.14V45.04M637.7 27.66h9.4M637.7 45.04h9.4M656.03 37.73V45.13M651.33 27.21h9.4M651.33 45.13h9.4M669.67 37.31V45.21M664.97 26.75h9.4M664.97 45.21h9.4M683.3 36.9V45.3M678.6 26.3h9.4M678.6 45.3h9.4" fill="none" stroke="#00ff00" stroke-width="0.8"/>
<path d="M93.8 45.3h6.4M93.8 52.3h6.4M107.44 45.28h6.4M107.44 52.28h6.4M121.07 45.26h6.4M121.07 52.26h6.4M134.71 45.24h6.4M134.71 52.24h6.4M148.34 45.22h6.4M148.34 52.22h6.4M161.98 45.2h6.4M161.98 52.2h6.4M175.61 45.17h6.4M175.61 52.17h6.4M189.25 45.15h6.4M189.25 52.15h6.4M202.88 45.13h6.4M202.88 52.13h6.4M216.52 45.11h6.4M216.52 52.11h6.4M230.15 45.09h6.4M230.15 52.09h6.4M243.78 45.07h6.4M243.78 52.07h6.4M257.42 45.05h6.4M257.42 52.05h6.4M271.06 45.03h6.4M271.06 52.03h6.4M284.69 45.01h6.4M284.69 52.01h6.4M298.32 44.99h6.4M298.32 51.99h6.4M311.96 44.97h6.4M311.96 51.97h6.4M325.59 44.95h6.4M325.59 51.95h6.4M339.23 44.92h6.4M339.23 51.92h6.4M352.87 44.9h6.4M352.87 51.9h6.4M366.5 44.88h6.4M366.5 51.88h6.4M380.13 44.86h6.4M380.13 51.86h6.4M393.77 44.84h6.4M393.77 51.84h6.4M407.41 44.82h6.4M407.41 51.82h6.4M421.04 44.8h6.4M421.04 51.8h6.4M434.68 44.85h6.4M434.68 51.85h6.4M448.31 44.91h6.4M448.31 51.91h6.4M461.94 44.96h6.4M461.94 51.96h6.4M475.58 45.01h6.4M475.58 52.01h6.4M489.22 45.06h6.4M489.22 52.06h6.4M502.85 45.12h6.4M502.85 52.12h6.4M516.48 45.17h6.4M516.48 52.17h6.4M530.12 45.22h6.4M530.12 52.22h6.4M543.75 45.27h6.4M543.75 52.27h6.4M557.39 45.33h6.4M557.39 52.33h6.4M571.02 45.38h6.4M571.02 52.38h6.4M584.66 45.43h6.4M584.66 52.43h6.4M598.29 45.48h6.4M598.29 52.48h6.4M611.93 45.54h6.4M611.93 52.54h6.4M625.56 45.59h6.4M625.56 52.59h6.4M639.2 45.64h6.4M639.2 52.64h6.4M652.83 45.69h6.4M652.83 52.69h6.4M666.47 45.75h6.4M666.47 52.75h6.4M680.1 45.8h6.4M680.1 52.8h6.4" fill="none" stroke="#00ff00" stroke-width="0.8"/>
<path d="M97 52.41V52.8M97 67.2V73.66M92.3 52.41h9.4M92.3 73.66h9.4M110.64 52.18V52.6M110.64 67V73.53M105.94 52.18h9.4M105.94 73.53h9.4M124.27 51.95V52.4M124.27 66.8V73.41M119.57 51.95h9.4M119.57 73.41h9.4M137.91 51.73V52.19M137.91 66.59V73.29M133.21 51.73h9.4M133.21 73.29h9.4M151.54 51.5V51.99M151.54 66.39V73.17M146.84 51.5h9.4M146.84 73.17h9.4M165.18 51.28V51.79M165.18 66.19V73.05M160.48 51.28h9.4M160.48 73.05h9.4M178.81 51.05V51.59M178.81 65.99V72.93M174.11 51.05h9.4M174.11 72.93h9.4M192.44 50.82V51.38M192.44 65.78V72.81M187.75 50.82h9.4M187.75 72.81h9.4M206.08 50.6V51.18M206.08 65.58V72.69M201.38 50.6h9.4M201.38 72.69h9.4M219.72 50.37V50.98M219.72 65.38V72.57M215.02 50.37h9.4M215.02 72.57h9.4M233.35 50.15V50.78M233.35 65.18V72.45M228.65 50.15h9.4M228.65 72.45h9.4M246.98 49.92V50.58M246.98 64.98V72.33M242.28 49.92h9.4M242.28 72.33h9.4M260.62 49.7V50.37M260.62 64.77V72.22M255.92 49.7h9.4M255.92 72.22h9.4M274.25 49.47V50.17M274.25 64.57V72.1M269.56 49.47h9.4M269.56 72.1h9.4M287.89 49.24V49.97M287.89 64.37V71.98M283.19 49.24h9.4M283.19 71.98h9.4M301.52 49.02V49.77M301.52 64.17V71.86M296.82 49.02h9.4M296.82 71.86h9.4M315.16 48.79V49.56M315.16 63.96V71.75M310.46 48.79h9.4M310.46 71.75h9.4M328.79 48.57V49.36M328.79 63.76V71.63M324.09 48.57h9.4M324.09 71.63h9.4M342.43 48.29V49.11M342.43 63.51V71.46M337.73 48.29h9.4M337.73 71.46h9.4M356.06 47.8V48.64M356.06 63.04V71.08M351.37 47.8h9.4M351.37 71.08h9.4M369.7 47.31V48.17M369.7 62.57V70.7M365 47.31h9.4M365 70.7h9.4M383.33 46.82V47.7M383.33 62.1V70.32M378.63 46.82h9.4M378.63 70.32h9.4M396.97 46.32V47.24M396.97 61.64V69.95M392.27 46.32h9.4M392.27 69.95h9.4M410.61 45.83V46.77M410.61 61.17V69.57M405.91 45.83h9.4M405.91 69.57h9.4M424.24 45.34V46.3M424.24 60.7V69.19M419.54 45.34h9.4M419.54 69.19h9.4M437.88 44.98V45.96M437.88 60.36V68.94M433.18 44.98h9.4M433.18 68.94h9.4M451.51 44.61V45.62M451.51 60.02V68.69M446.81 44.61h9.4M446.81 68.69h9.4M465.14 44.25V45.27M465.14 59.67V68.43M460.44 44.25h9.4M460.44 68.43h9.4M478.78 43.88V44.93M478.78 59.33V68.18M474.08 43.88h9.4M474.08 68.18h9.4M492.42 43.52V44.59M492.42 58.99V67.93M487.72 43.52h9.4M487.72 67.93h9.4M506.05 43.15V44.25M506.05 58.65V67.68M501.35 43.15h9.4M501.35 67.68h9.4M519.68 42.79V43.91M519.68 58.31V67.43M514.98 42.79h9.4M514.98 67.43h9.4M533.32 42.42V43.56M533.32 57.96V67.19M528.62 42.42h9.4M528.62 67.19h9.4M546.95 42.06V43.22M546.95 57.62V66.94M542.25 42.06h9.4M542.25 66.94h9.4M560.59 41.69V42.88M560.59 57.28V66.69M555.89 41.69h9.4M555.89 66.69h9.4M574.22 41.33V42.54M574.22 56.94V66.44M569.52 41.33h9.4M569.52 66.44h9.4M587.86 40.96V42.19M587.86 56.59V66.2M583.16 40.96h9.4M583.16 66.2h9.4M601.5 40.6V41.85M601.5 56.25V65.95M596.79 40.6h9.4M596.79 65.95h9.4M615.13 40.23V41.51M615.13 55.91V65.7M610.43 40.23h9.4M610.43 65.7h9.4M628.76 39.87V41.17M628.76 55.57V65.46M624.06 39.87h9.4M624.06 65.46h9.4M642.4 39.5V40.83M642.4 55.23V65.21M637.7 39.5h9.4M637.7 65.21h9.4M656.03 39.14V40.48M656.03 54.88V64.97M651.33 39.14h9.4M651.33 64.97h9.4M669.67 38.77V40.14M669.67 54.54V64.73M664.97 38.77h9.4M664.97 64.73h9.4M683.3 38.41V39.8M683.3 54.2V64.48M678.6 38.41h9.4M678.6 64.48h9.4" fill="none" stroke="#0000ff" stroke-width="0.8"/>
<path d="M97 54.88V56.7M97 71.1V83.4M92.3 54.88h9.4M92.3 83.4h9.4M110.64 54.81V56.63M110.64 71.03V83.33M105.94 54.81h9.4M105.94 83.33h9.4M124.27 54.75V56.57M124.27 70.97V83.26M119.57 54.75h9.4M119.57 83.26h9.4M137.91 54.68V56.5M137.91 70.9V83.19M133.21 54.68h9.4M133.21 83.19h9.4M151.54 54.61V56.43M151.54 70.83V83.13M146.84 54.61h9.4M146.84 83.13h9.4M165.18 54.54V56.36M165.18 70.76V83.06M160.48 54.54h9.4M160.48 83.06h9.4M178.81 54.48V56.3M178.81 70.7V82.99M174.11 54.48h9.4M174.11 82.99h9.4M192.44 54.41V56.23M192.44 70.63V82.92M187.75 54.41h9.4M187.75 82.92h9.4M206.08 54.34V56.16M206.08 70.56V82.86M201.38 54.34h9.4M201.38 82.86h9.4M219.72 54.28V56.09M219.72 70.49V82.79M215.02 54.28h9.4M215.02 82.79h9.4M233.35 54.21V56.03M233.35 70.43V82.72M228.65 54.21h9.4M228.65 82.72h9.4M246.98 54.14V55.96M246.98 70.36V82.65M242.28 54.14h9.4M242.28 82.65h9.4M260.62 54.07V55.89M260.62 70.29V82.59M255.92 54.07h9.4M255.92 82.59h9.4M274.25 54.01V55.82M274.25 70.22V82.52M269.56 54.01h9.4M269.56 82.52h9.4M287.89 53.94V55.76M287.89 70.16V82.45M283.19 53.94h9.4M283.19 82.45h9.4M301.52 53.87V55.69M301.52 70.09V82.38M296.82 53.87h9.4M296.82 82.38h9.4M315.16 53.8V55.62M315.16 70.02V82.32M310.46 53.8h9.4M310.46 82.32h9.4M328.79 53.74V55.55M328.79 69.95V82.25M324.09 53.74h9.4M324.09 82.25h9.4M342.43 53.7V55.52M342.43 69.92V82.21M337.73 53.7h9.4M337.73 82.21h9.4M356.06 53.79V55.61M356.06 70.01V82.31M351.37 53.79h9.4M351.37 82.31h9.4M369.7 53.88V55.7M369.7 70.1V82.4M365 53.88h9.4M365 82.4h9.4M383.33 53.97V55.79M383.33 70.19V82.49M378.63 53.97h9.4M378.63 82.49h9.4M396.97 54.07V55.88M396.97 70.28V82.58M392.27 54.07h9.4M392.27 82.58h9.4M410.61 54.16V55.97M410.61 70.37V82.67M405.91 54.16h9.4M405.91 82.67h9.4M424.24 54.25V56.07M424.24 70.47V82.76M419.54 54.25h9.4M419.54 82.76h9.4M437.88 54.34V56.16M437.88 70.56V82.85M433.18 54.34h9.4M433.18 82.85h9.4M451.51 54.43V56.25M451.51 70.65V82.94M446.81 54.43h9.4M446.81 82.94h9.4M465.14 54.49V56.34M465.14 70.74V83.19M460.44 54.49h9.4M460.44 83.19h9.4M478.78 54.55V56.43M478.78 70.83V83.44M474.08 54.55h9.4M474.08 83.44h9.4M492.42 54.61V56.52M492.42 70.92V83.69M487.72 54.61h9.4M487.72 83.69h9.4M506.05 54.67V56.61M506.05 71.01V83.95M501.35 54.67h9.4M501.35 83.95h9.4M519.68 54.73V56.7M519.68 71.1V84.2M514.98 54.73h9.4M514.98 84.2h9.4M533.32 54.79V56.8M533.32 71.2V84.46M528.62 54.79h9.4M528.62 84.46h9.4M546.95 54.85V56.89M546.95 71.29V84.72M542.25 54.85h9.4M542.25 84.72h9.4M560.59 54.91V56.98M560.59 71.38V84.98M555.89 54.91h9.4M555.89 84.98h9.4M574.22 54.98V57.07M574.22 71.47V85.24M569.52 54.98h9.4M569.52 85.24h9.4M587.86 55.04V57.16M587.86 71.56V85.5M583.16 55.04h9.4M583.16 85.5h9.4M601.5 55.1V57.25M601.5 71.65V85.76M596.79 55.1h9.4M596.79 85.76h9.4M615.13 55.16V57.34M615.13 71.74V86.03M610.43 55.16h9.4M610.43 86.03h9.4M628.76 55.22V57.43M628.76 71.83V86.3M624.06 55.22h9.4M624.06 86.3h9.4M642.4 55.28V57.53M642.4 71.93V86.57M637.7 55.28h9.4M637.7 86.57h9.4M656.03 55.34V57.62M656.03 72.02V86.84M651.33 55.34h9.4M651.33 86.84h9.4M669.67 55.4V57.71M669.67 72.11V87.11M664.97 55.4h9.4M664.97 87.11h9.4M683.3 55.46V57.8M683.3 72.2V87.39M678.6 55.46h9.4M678.6 87.39h9.4" fill="none" stroke="#0000ff" stroke-width="0.8"/>
<path d="M97 426.6V432.6M92.3 426.6h9.4M92.3 432.6h9.4M110.64 417.9V418.1M110.64 429.68V432.5M105.94 417.9h9.4M105.94 432.5h9.4" fill="none" stroke="#8000ff" stroke-width="0.8"/>
<path d="M97 251.7V257.7M93.8 251.7h6.4M93.8 257.7h6.4M110.64 252.98V253.8M107.44 241.8h6.4M107.44 253.8h6.4M121.07 242.2h6.4M121.07 252.2h6.4M134.71 242.3h6.4M134.71 251.3h6.4M151.54 240.2V248.2M148.34 240.2h6.4M148.34 248.2h6.4M165.18 237.4V241.6M161.98 237.4h6.4M161.98 241.6h6.4M178.81 235.4V239.6M175.61 235.4h6.4M175.61 239.6h6.4M192.44 233.8V238M189.25 233.8h6.4M189.25 238h6.4M206.08 230.8V235M202.88 230.8h6.4M202.88 235h6.4M219.72 229.2V233.4M216.52 229.2h6.4M216.52 233.4h6.4M233.35 226V230.2M230.15 226h6.4M230.15 230.2h6.4M246.98 222.82V227.02M243.78 222.82h6.4M243.78 227.02h6.4M260.62 219.65V223.85M257.42 219.65h6.4M257.42 223.85h6.4M274.25 216.47V220.67M271.06 216.47h6.4M271.06 220.67h6.4M287.89 213.29V217.49M284.69 213.29h6.4M284.69 217.49h6.4M301.52 210.12V214.32M298.32 210.12h6.4M298.32 214.32h6.4M315.16 206.94V211.14M311.96 206.94h6.4M311.96 211.14h6.4M328.79 203.76V207.96M325.59 203.76h6.4M325.59 207.96h6.4M342.43 200.59V204.79M339.23 200.59h6.4M339.23 204.79h6.4M356.06 197.41V201.61M352.87 197.41h6.4M352.87 201.61h6.4M369.7 194.24V198.44M366.5 194.24h6.4M366.5 198.44h6.4M383.33 191.06V195.26M380.13 191.06h6.4M380.13 195.26h6.4M396.97 187.88V192.08M393.77 187.88h6.4M393.77 192.08h6.4M410.61 184.71V188.91M407.41 184.71h6.4M407.41 188.91h6.4M424.24 181.53V185.73M421.04 181.53h6.4M421.04 185.73h6.4M437.88 178.35V182.55M434.68 178.35h6.4M434.68 182.55h6.4M451.51 175.18V179.38M448.31 175.18h6.4M448.31 179.38h6.4M465.14 172V176.2M461.94 172h6.4M461.94 176.2h6.4M478.78 168.67V172.87M475.58 168.67h6.4M475.58 172.87h6.4M492.42 165.35V169.55M489.22 165.35h6.4M489.22 169.55h6.4M506.05 162.02V166.22M502.85 162.02h6.4M502.85 166.22h6.4M519.68 158.69V162.89M516.48 158.69h6.4M516.48 162.89h6.4M533.32 155.36V159.56M530.12 155.36h6.4M530.12 159.56h6.4M546.95 152.04V156.24M543.75 152.04h6.4M543.75 156.24h6.4M560.59 148.71V152.91M557.39 148.71h6.4M557.39 152.91h6.4M574.22 145.38V149.58M571.02 145.38h6.4M571.02 149.58h6.4M587.86 142.05V146.25M584.66 142.05h6.4M584.66 146.25h6.4M601.5 138.73V142.93M598.29 138.73h6.4M598.29 142.93h6.4M615.13 135.4V139.6M611.93 135.4h6.4M611.93 139.6h6.4M628.76 129.4V133.6M625.56 129.4h6.4M625.56 133.6h6.4M642.4 125.78V129.97M639.2 125.78h6.4M639.2 129.97h6.4M656.03 122.15V126.35M652.83 122.15h6.4M652.83 126.35h6.4M669.67 118.53V122.73M666.47 118.53h6.4M666.47 122.73h6.4M683.3 114.9V119.1M680.1 114.9h6.4M680.1 119.1h6.4" fill="none" stroke="#8000ff" stroke-width="0.8"/>
<path d="M97 442.2V443.9M92.3 433h9.4M92.3 443.9h9.4M137.91 447.5V462.3M137.91 472.7V507.2M133.21 447.5h9.4M151.54 431.9V435.7M151.54 446.1V457.3M146.84 431.9h9.4M146.84 457.3h9.4" fill="none" stroke="#000000" stroke-width="0.8"/>
<path d="M97 267.9V269.3M92.3 258.7h9.4M92.3 269.3h9.4M110.64 252.7V258.1M110.64 268.5V287.2M105.94 252.7h9.4M105.94 287.2h9.4M124.27 258.3V264.5M124.27 274.9V299.1M119.57 258.3h9.4M119.57 299.1h9.4M137.91 249.8V253.1M137.91 263.5V274.6M133.21 249.8h9.4M133.21 274.6h9.4M151.54 257.7V261.1M151.54 271.5V283.2M146.84 257.7h9.4M146.84 283.2h9.4M160.48 248.2h9.4M160.48 257.3h9.4M178.81 253.7V261.3M174.11 253.7h9.4M174.11 261.3h9.4M192.44 258.4V259M187.75 258.4h9.4M187.75 259h9.4M201.38 247.6h9.4M201.38 256.9h9.4M219.72 243V245.46M215.02 243h9.4M215.02 245.46h9.4M233.35 243.34V245.92M228.65 243.34h9.4M228.65 245.92h9.4M246.98 239.8V242.49M242.28 239.8h9.4M242.28 242.49h9.4M260.62 236.26V239.06M255.92 236.26h9.4M255.92 239.06h9.4M274.25 232.71V235.63M269.56 232.71h9.4M269.56 235.63h9.4M287.89 229.17V232.2M283.19 229.17h9.4M283.19 232.2h9.4M301.52 225.62V228.77M296.82 225.62h9.4M296.82 228.77h9.4M315.16 222.08V225.33M310.46 222.08h9.4M310.46 225.33h9.4M328.79 218.53V221.9M324.09 218.53h9.4M324.09 221.9h9.4M342.43 214.99V218.47M337.73 214.99h9.4M337.73 218.47h9.4M356.06 211.44V215.04M351.37 211.44h9.4M351.37 215.04h9.4M369.7 208.24V211.95M365 208.24h9.4M365 211.95h9.4M383.33 205.03V208.86M378.63 205.03h9.4M378.63 208.86h9.4M396.97 201.83V205.77M392.27 201.83h9.4M392.27 205.77h9.4M410.61 198.62V202.68M405.91 198.62h9.4M405.91 202.68h9.4M424.24 195.42V199.58M419.54 195.42h9.4M419.54 199.58h9.4M437.88 192.21V196.49M433.18 192.21h9.4M433.18 196.49h9.4M451.51 189.01V193.4M446.81 189.01h9.4M446.81 193.4h9.4M465.14 185.8V190.31M460.44 185.8h9.4M460.44 190.31h9.4M478.78 182.37V187.26M474.08 182.37h9.4M474.08 187.26h9.4M492.42 178.94V184.21M487.72 178.94h9.4M487.72 184.21h9.4M506.05 175.51V181.16M501.35 175.51h9.4M501.35 181.16h9.4M519.68 172.08V178.11M514.98 172.08h9.4M514.98 178.11h9.4M533.32 168.64V175.06M528.62 168.64h9.4M528.62 175.06h9.4M546.95 165.21V172.01M542.25 165.21h9.4M542.25 172.01h9.4M560.59 161.78V168.96M555.89 161.78h9.4M555.89 168.96h9.4M574.22 158.21V166.05M569.52 158.21h9.4M569.52 166.05h9.4M587.86 154.64V163.15M583.16 154.64h9.4M583.16 163.15h9.4M596.79 151.07h9.4M596.79 160.24h9.4M610.43 147.5h9.4M610.43 157.34h9.4M624.06 138.82h9.4M624.06 148.82h9.4M642.4 145.17V145.18M637.7 135.01h9.4M637.7 145.18h9.4M656.03 141.45V141.54M651.33 131.21h9.4M651.33 141.54h9.4M669.67 137.72V137.9M664.97 127.41h9.4M664.97 137.9h9.4M683.3 134V134.26M678.6 123.6h9.4M678.6 134.26h9.4" fill="none" stroke="#000000" stroke-width="0.8"/>
</g>
<clipPath id="cr"><rect x="910.6" y="18.3" width="612" height="492.1"/></clipPath>
<g clip-path="url(#cr)">
<path d="M908.4 38a5.6 5.6 0 1 0 11.2 0a5.6 5.6 0 1 0 -11.2 0zM922.19 37.73a5.6 5.6 0 1 0 11.2 0a5.6 5.6 0 1 0 -11.2 0zM935.98 37.45a5.6 5.6 0 1 0 11.2 0a5.6 5.6 0 1 0 -11.2 0zM949.77 37.18a5.6 5.6 0 1 0 11.2 0a5.6 5.6 0 1 0 -11.2 0zM963.56 36.91a5.6 5.6 0 1 0 11.2 0a5.6 5.6 0 1 0 -11.2 0zM977.35 36.64a5.6 5.6 0 1 0 11.2 0a5.6 5.6 0 1 0 -11.2 0zM991.14 36.36a5.6 5.6 0 1 0 11.2 0a5.6 5.6 0 1 0 -11.2 0zM1004.93 36.09a5.6 5.6 0 1 0 11.2 0a5.6 5.6 0 1 0 -11.2 0zM1018.72 35.82a5.6 5.6 0 1 0 11.2 0a5.6 5.6 0 1 0 -11.2 0zM1032.51 35.55a5.6 5.6 0 1 0 11.2 0a5.6 5.6 0 1 0 -11.2 0zM1046.3 35.27a5.6 5.6 0 1 0 11.2 0a5.6 5.6 0 1 0 -11.2 0zM1060.09 35a5.6 5.6 0 1 0 11.2 0a5.6 5.6 0 1 0 -11.2 0zM1073.88 34.73a5.6 5.6 0 1 0 11.2 0a5.6 5.6 0 1 0 -11.2 0zM1087.67 34.45a5.6 5.6 0 1 0 11.2 0a5.6 5.6 0 1 0 -11.2 0zM1101.46 34.18a5.6 5.6 0 1 0 11.2 0a5.6 5.6 0 1 0 -11.2 0zM1115.25 33.91a5.6 5.6 0 1 0 11.2 0a5.6 5.6 0 1 0 -11.2 0zM1129.04 33.64a5.6 5.6 0 1 0 11.2 0a5.6 5.6 0 1 0 -11.2 0zM1142.83 33.36a5.6 5.6 0 1 0 11.2 0a5.6 5.6 0 1 0 -11.2 0zM1156.62 33.09a5.6 5.6 0 1 0 11.2 0a5.6 5.6 0 1 0 -11.2 0zM1170.41 32.82a5.6 5.6 0 1 0 11.2 0a5.6 5.6 0 1 0 -11.2 0zM1184.2 32.55a5.6 5.6 0 1 0 11.2 0a5.6 5.6 0 1 0 -11.2 0zM1197.99 32.27a5.6 5.6 0 1 0 11.2 0a5.6 5.6 0 1 0 -11.2 0zM1211.78 32a5.6 5.6 0 1 0 11.2 0a5.6 5.6 0 1 0 -11.2 0zM1225.57 31.57a5.6 5.6 0 1 0 11.2 0a5.6 5.6 0 1 0 -11.2 0zM1239.36 31.14a5.6 5.6 0 1 0 11.2 0a5.6 5.6 0 1 0 -11.2 0zM1253.15 30.71a5.6 5.6 0 1 0 11.2 0a5.6 5.6 0 1 0 -11.2 0zM1266.94 30.29a5.6 5.6 0 1 0 11.2 0a5.6 5.6 0 1 0 -11.2 0zM1280.73 29.86a5.6 5.6 0 1 0 11.2 0a5.6 5.6 0 1 0 -11.2 0zM1294.52 29.43a5.6 5.6 0 1 0 11.2 0a5.6 5.6 0 1 0 -11.2 0zM1308.31 29a5.6 5.6 0 1 0 11.2 0a5.6 5.6 0 1 0 -11.2 0zM1322.1 28.57a5.6 5.6 0 1 0 11.2 0a5.6 5.6 0 1 0 -11.2 0zM1335.89 28.14a5.6 5.6 0 1 0 11.2 0a5.6 5.6 0 1 0 -11.2 0zM1349.68 27.71a5.6 5.6 0 1 0 11.2 0a5.6 5.6 0 1 0 -11.2 0zM1363.47 27.29a5.6 5.6 0 1 0 11.2 0a5.6 5.6 0 1 0 -11.2 0zM1377.26 26.86a5.6 5.6 0 1 0 11.2 0a5.6 5.6 0 1 0 -11.2 0zM1391.05 26.43a5.6 5.6 0 1 0 11.2 0a5.6 5.6 0 1 0 -11.2 0zM1404.84 26a5.6 5.6 0 1 0 11.2 0a5.6 5.6 0 1 0 -11.2 0zM1418.63 25.57a5.6 5.6 0 1 0 11.2 0a5.6 5.6 0 1 0 -11.2 0zM1432.42 25.14a5.6 5.6 0 1 0 11.2 0a5.6 5.6 0 1 0 -11.2 0zM1446.21 24.71a5.6 5.6 0 1 0 11.2 0a5.6 5.6 0 1 0 -11.2 0zM1460 24.29a5.6 5.6 0 1 0 11.2 0a5.6 5.6 0 1 0 -11.2 0zM1473.79 23.86a5.6 5.6 0 1 0 11.2 0a5.6 5.6 0 1 0 -11.2 0zM1487.58 23.43a5.6 5.6 0 1 0 11.2 0a5.6 5.6 0 1 0 -11.2 0zM1501.37 23a5.6 5.6 0 1 0 11.2 0a5.6 5.6 0 1 0 -11.2 0z" fill="#ff8000" stroke="#ff8000" stroke-width="0.3"/>
<path d="M908.4 43.4a5.6 5.6 0 1 0 11.2 0a5.6 5.6 0 1 0 -11.2 0zM922.19 43.18a5.6 5.6 0 1 0 11.2 0a5.6 5.6 0 1 0 -11.2 0zM935.98 42.95a5.6 5.6 0 1 0 11.2 0a5.6 5.6 0 1 0 -11.2 0zM949.77 42.73a5.6 5.6 0 1 0 11.2 0a5.6 5.6 0 1 0 -11.2 0zM963.56 42.51a5.6 5.6 0 1 0 11.2 0a5.6 5.6 0 1 0 -11.2 0zM977.35 42.29a5.6 5.6 0 1 0 11.2 0a5.6 5.6 0 1 0 -11.2 0zM991.14 42.06a5.6 5.6 0 1 0 11.2 0a5.6 5.6 0 1 0 -11.2 0zM1004.93 41.84a5.6 5.6 0 1 0 11.2 0a5.6 5.6 0 1 0 -11.2 0zM1018.72 41.62a5.6 5.6 0 1 0 11.2 0a5.6 5.6 0 1 0 -11.2 0zM1032.51 41.4a5.6 5.6 0 1 0 11.2 0a5.6 5.6 0 1 0 -11.2 0zM1046.3 41.17a5.6 5.6 0 1 0 11.2 0a5.6 5.6 0 1 0 -11.2 0zM1060.09 40.95a5.6 5.6 0 1 0 11.2 0a5.6 5.6 0 1 0 -11.2 0zM1073.88 40.73a5.6 5.6 0 1 0 11.2 0a5.6 5.6 0 1 0 -11.2 0zM1087.67 40.5a5.6 5.6 0 1 0 11.2 0a5.6 5.6 0 1 0 -11.2 0zM1101.46 40.28a5.6 5.6 0 1 0 11.2 0a5.6 5.6 0 1 0 -11.2 0zM1115.25 40.06a5.6 5.6 0 1 0 11.2 0a5.6 5.6 0 1 0 -11.2 0zM1129.04 39.84a5.6 5.6 0 1 0 11.2 0a5.6 5.6 0 1 0 -11.2 0zM1142.83 39.61a5.6 5.6 0 1 0 11.2 0a5.6 5.6 0 1 0 -11.2 0zM1156.62 39.39a5.6 5.6 0 1 0 11.2 0a5.6 5.6 0 1 0 -11.2 0zM1170.41 39.17a5.6 5.6 0 1 0 11.2 0a5.6 5.6 0 1 0 -11.2 0zM1184.2 38.95a5.6 5.6 0 1 0 11.2 0a5.6 5.6 0 1 0 -11.2 0zM1197.99 38.72a5.6 5.6 0 1 0 11.2 0a5.6 5.6 0 1 0 -11.2 0zM1211.78 38.5a5.6 5.6 0 1 0 11.2 0a5.6 5.6 0 1 0 -11.2 0zM1225.57 38.3a5.6 5.6 0 1 0 11.2 0a5.6 5.6 0 1 0 -11.2 0zM1239.36 38.11a5.6 5.6 0 1 0 11.2 0a5.6 5.6 0 1 0 -11.2 0zM1253.15 37.91a5.6 5.6 0 1 0 11.2 0a5.6 5.6 0 1 0 -11.2 0zM1266.94 37.72a5.6 5.6 0 1 0 11.2 0a5.6 5.6 0 1 0 -11.2 0zM1280.73 37.52a5.6 5.6 0 1 0 11.2 0a5.6 5.6 0 1 0 -11.2 0zM1294.52 37.33a5.6 5.6 0 1 0 11.2 0a5.6 5.6 0 1 0 -11.2 0zM1308.31 37.13a5.6 5.6 0 1 0 11.2 0a5.6 5.6 0 1 0 -11.2 0zM1322.1 36.94a5.6 5.6 0 1 0 11.2 0a5.6 5.6 0 1 0 -11.2 0zM1335.89 36.74a5.6 5.6 0 1 0 11.2 0a5.6 5.6 0 1 0 -11.2 0zM1349.68 36.55a5.6 5.6 0 1 0 11.2 0a5.6 5.6 0 1 0 -11.2 0zM1363.47 36.35a5.6 5.6 0 1 0 11.2 0a5.6 5.6 0 1 0 -11.2 0zM1377.26 36.16a5.6 5.6 0 1 0 11.2 0a5.6 5.6 0 1 0 -11.2 0zM1391.05 35.96a5.6 5.6 0 1 0 11.2 0a5.6 5.6 0 1 0 -11.2 0zM1404.84 35.77a5.6 5.6 0 1 0 11.2 0a5.6 5.6 0 1 0 -11.2 0zM1418.63 35.57a5.6 5.6 0 1 0 11.2 0a5.6 5.6 0 1 0 -11.2 0zM1432.42 35.38a5.6 5.6 0 1 0 11.2 0a5.6 5.6 0 1 0 -11.2 0zM1446.21 35.18a5.6 5.6 0 1 0 11.2 0a5.6 5.6 0 1 0 -11.2 0zM1460 34.99a5.6 5.6 0 1 0 11.2 0a5.6 5.6 0 1 0 -11.2 0zM1473.79 34.79a5.6 5.6 0 1 0 11.2 0a5.6 5.6 0 1 0 -11.2 0zM1487.58 34.6a5.6 5.6 0 1 0 11.2 0a5.6 5.6 0 1 0 -11.2 0zM1501.37 34.4a5.6 5.6 0 1 0 11.2 0a5.6 5.6 0 1 0 -11.2 0z" fill="#fff" stroke="#ff8000" stroke-width="0.8"/>
<path d="M914 28.37L920.5 39.63L907.5 39.63zM927.79 28.15L934.29 39.41L921.29 39.41zM941.58 27.93L948.08 39.19L935.08 39.19zM955.37 27.72L961.87 38.97L948.87 38.97zM969.16 27.5L975.66 38.76L962.66 38.76zM982.95 27.28L989.45 38.54L976.45 38.54zM996.74 27.06L1003.24 38.32L990.24 38.32zM1010.53 26.84L1017.03 38.1L1004.03 38.1zM1024.32 26.63L1030.82 37.88L1017.82 37.88zM1038.11 26.41L1044.61 37.67L1031.61 37.67zM1051.9 26.19L1058.4 37.45L1045.4 37.45zM1065.69 25.97L1072.19 37.23L1059.19 37.23zM1079.48 25.75L1085.98 37.01L1072.98 37.01zM1093.27 25.53L1099.77 36.79L1086.77 36.79zM1107.06 25.32L1113.56 36.57L1100.56 36.57zM1120.85 25.1L1127.35 36.36L1114.35 36.36zM1134.64 24.88L1141.14 36.14L1128.14 36.14zM1148.43 24.66L1154.93 35.92L1141.93 35.92zM1162.22 24.44L1168.72 35.7L1155.72 35.7zM1176.01 24.23L1182.51 35.48L1169.51 35.48zM1189.8 24.01L1196.3 35.27L1183.3 35.27zM1203.59 23.79L1210.09 35.05L1197.09 35.05zM1217.38 23.57L1223.88 34.83L1210.88 34.83zM1231.17 23.18L1237.67 34.44L1224.67 34.44zM1244.96 22.79L1251.46 34.05L1238.46 34.05zM1258.75 22.4L1265.25 33.66L1252.25 33.66zM1272.54 22.01L1279.04 33.27L1266.04 33.27zM1286.33 21.62L1292.83 32.88L1279.83 32.88zM1300.12 21.23L1306.62 32.49L1293.62 32.49zM1313.91 20.84L1320.41 32.1L1307.41 32.1zM1327.7 20.45L1334.2 31.71L1321.2 31.71zM1341.49 20.06L1347.99 31.31L1334.99 31.31zM1355.28 19.67L1361.78 30.92L1348.78 30.92zM1369.07 19.28L1375.57 30.53L1362.57 30.53zM1382.86 18.89L1389.36 30.14L1376.36 30.14zM1396.65 18.49L1403.15 29.75L1390.15 29.75zM1410.44 18.1L1416.94 29.36L1403.94 29.36zM1424.23 17.71L1430.73 28.97L1417.73 28.97zM1438.02 17.32L1444.52 28.58L1431.52 28.58zM1451.81 16.93L1458.31 28.19L1445.31 28.19zM1465.6 16.54L1472.1 27.8L1459.1 27.8zM1479.39 16.15L1485.89 27.41L1472.89 27.41zM1493.18 15.76L1499.68 27.02L1486.68 27.02zM1506.97 15.37L1513.47 26.63L1500.47 26.63z" fill="#00ff00" stroke="#00ff00" stroke-width="0.3"/>
<path d="M914 32.77L920.5 44.03L907.5 44.03zM927.79 32.67L934.29 43.93L921.29 43.93zM941.58 32.57L948.08 43.83L935.08 43.83zM955.37 32.47L961.87 43.73L948.87 43.73zM969.16 32.37L975.66 43.63L962.66 43.63zM982.95 32.27L989.45 43.53L976.45 43.53zM996.74 32.17L1003.24 43.43L990.24 43.43zM1010.53 32.07L1017.03 43.33L1004.03 43.33zM1024.32 31.97L1030.82 43.23L1017.82 43.23zM1038.11 31.87L1044.61 43.13L1031.61 43.13zM1051.9 31.77L1058.4 43.03L1045.4 43.03zM1065.69 31.67L1072.19 42.93L1059.19 42.93zM1079.48 31.57L1085.98 42.83L1072.98 42.83zM1093.27 31.47L1099.77 42.73L1086.77 42.73zM1107.06 31.37L1113.56 42.63L1100.56 42.63zM1120.85 31.27L1127.35 42.53L1114.35 42.53zM1134.64 31.17L1141.14 42.43L1128.14 42.43zM1148.43 31.07L1154.93 42.33L1141.93 42.33zM1162.22 30.97L1168.72 42.23L1155.72 42.23zM1176.01 30.87L1182.51 42.13L1169.51 42.13zM1189.8 30.77L1196.3 42.03L1183.3 42.03zM1203.59 30.67L1210.09 41.93L1197.09 41.93zM1217.38 30.57L1223.88 41.83L1210.88 41.83zM1231.17 30.54L1237.67 41.8L1224.67 41.8zM1244.96 30.5L1251.46 41.76L1238.46 41.76zM1258.75 30.47L1265.25 41.73L1252.25 41.73zM1272.54 30.44L1279.04 41.7L1266.04 41.7zM1286.33 30.4L1292.83 41.66L1279.83 41.66zM1300.12 30.37L1306.62 41.63L1293.62 41.63zM1313.91 30.34L1320.41 41.6L1307.41 41.6zM1327.7 30.3L1334.2 41.56L1321.2 41.56zM1341.49 30.27L1347.99 41.53L1334.99 41.53zM1355.28 30.24L1361.78 41.5L1348.78 41.5zM1369.07 30.2L1375.57 41.46L1362.57 41.46zM1382.86 30.17L1389.36 41.43L1376.36 41.43zM1396.65 30.14L1403.15 41.4L1390.15 41.4zM1410.44 30.1L1416.94 41.36L1403.94 41.36zM1424.23 30.07L1430.73 41.33L1417.73 41.33zM1438.02 30.04L1444.52 41.3L1431.52 41.3zM1451.81 30L1458.31 41.26L1445.31 41.26zM1465.6 29.97L1472.1 41.23L1459.1 41.23zM1479.39 29.94L1485.89 41.2L1472.89 41.2zM1493.18 29.9L1499.68 41.16L1486.68 41.16zM1506.97 29.87L1513.47 41.13L1500.47 41.13z" fill="none" stroke="#00ff00" stroke-width="0.8"/>
<path d="M914 58.95L919.59 61.93L919.59 67.88L914 70.85L908.41 67.88L908.41 61.93zM927.79 58.72L933.38 61.7L933.38 67.65L927.79 70.62L922.2 67.65L922.2 61.7zM941.58 58.5L947.17 61.47L947.17 67.42L941.58 70.4L935.99 67.42L935.99 61.47zM955.37 58.27L960.96 61.24L960.96 67.19L955.37 70.17L949.78 67.19L949.78 61.24zM969.16 58.04L974.75 61.02L974.75 66.97L969.16 69.94L963.57 66.97L963.57 61.02zM982.95 57.81L988.54 60.79L988.54 66.74L982.95 69.71L977.36 66.74L977.36 60.79zM996.74 57.59L1002.33 60.56L1002.33 66.51L996.74 69.49L991.15 66.51L991.15 60.56zM1010.53 57.36L1016.12 60.33L1016.12 66.28L1010.53 69.26L1004.94 66.28L1004.94 60.33zM1024.32 57.13L1029.91 60.11L1029.91 66.06L1024.32 69.03L1018.73 66.06L1018.73 60.11zM1038.11 56.9L1043.7 59.88L1043.7 65.83L1038.11 68.8L1032.52 65.83L1032.52 59.88zM1051.9 56.68L1057.49 59.65L1057.49 65.6L1051.9 68.58L1046.31 65.6L1046.31 59.65zM1065.69 56.45L1071.28 59.43L1071.28 65.38L1065.69 68.35L1060.1 65.38L1060.1 59.43zM1079.48 56.22L1085.07 59.2L1085.07 65.15L1079.48 68.12L1073.89 65.15L1073.89 59.2zM1093.27 56L1098.86 58.97L1098.86 64.92L1093.27 67.9L1087.68 64.92L1087.68 58.97zM1107.06 55.77L1112.65 58.74L1112.65 64.69L1107.06 67.67L1101.47 64.69L1101.47 58.74zM1120.85 55.54L1126.44 58.52L1126.44 64.47L1120.85 67.44L1115.26 64.47L1115.26 58.52zM1134.64 55.31L1140.23 58.29L1140.23 64.24L1134.64 67.21L1129.05 64.24L1129.05 58.29zM1148.43 55.09L1154.02 58.06L1154.02 64.01L1148.43 66.99L1142.84 64.01L1142.84 58.06zM1162.22 54.86L1167.81 57.83L1167.81 63.78L1162.22 66.76L1156.63 63.78L1156.63 57.83zM1176.01 54.63L1181.6 57.61L1181.6 63.56L1176.01 66.53L1170.42 63.56L1170.42 57.61zM1189.8 54.4L1195.39 57.38L1195.39 63.33L1189.8 66.3L1184.21 63.33L1184.21 57.38zM1203.59 54.18L1209.18 57.15L1209.18 63.1L1203.59 66.08L1198 63.1L1198 57.15zM1217.38 53.95L1222.97 56.92L1222.97 62.88L1217.38 65.85L1211.79 62.88L1211.79 56.92zM1231.17 53.62L1236.76 56.59L1236.76 62.54L1231.17 65.52L1225.58 62.54L1225.58 56.59zM1244.96 53.28L1250.55 56.26L1250.55 62.21L1244.96 65.18L1239.37 62.21L1239.37 56.26zM1258.75 52.95L1264.34 55.92L1264.34 61.88L1258.75 64.85L1253.16 61.88L1253.16 55.92zM1272.54 52.62L1278.13 55.59L1278.13 61.54L1272.54 64.52L1266.95 61.54L1266.95 55.59zM1286.33 52.28L1291.92 55.26L1291.92 61.21L1286.33 64.18L1280.74 61.21L1280.74 55.26zM1300.12 51.95L1305.71 54.92L1305.71 60.88L1300.12 63.85L1294.53 60.88L1294.53 54.92zM1313.91 51.62L1319.5 54.59L1319.5 60.54L1313.91 63.52L1308.32 60.54L1308.32 54.59zM1327.7 51.28L1333.29 54.26L1333.29 60.21L1327.7 63.18L1322.11 60.21L1322.11 54.26zM1341.49 50.95L1347.08 53.92L1347.08 59.88L1341.49 62.85L1335.9 59.88L1335.9 53.92zM1355.28 50.62L1360.87 53.59L1360.87 59.54L1355.28 62.52L1349.69 59.54L1349.69 53.59zM1369.07 50.28L1374.66 53.26L1374.66 59.21L1369.07 62.18L1363.48 59.21L1363.48 53.26zM1382.86 49.95L1388.45 52.92L1388.45 58.88L1382.86 61.85L1377.27 58.88L1377.27 52.92zM1396.65 49.62L1402.24 52.59L1402.24 58.54L1396.65 61.52L1391.06 58.54L1391.06 52.59zM1410.44 49.28L1416.03 52.26L1416.03 58.21L1410.44 61.18L1404.85 58.21L1404.85 52.26zM1424.23 48.95L1429.82 51.92L1429.82 57.88L1424.23 60.85L1418.64 57.88L1418.64 51.92zM1438.02 48.62L1443.61 51.59L1443.61 57.54L1438.02 60.52L1432.43 57.54L1432.43 51.59zM1451.81 48.28L1457.4 51.26L1457.4 57.21L1451.81 60.18L1446.22 57.21L1446.22 51.26zM1465.6 47.95L1471.19 50.92L1471.19 56.88L1465.6 59.85L1460.01 56.88L1460.01 50.92zM1479.39 47.62L1484.98 50.59L1484.98 56.54L1479.39 59.52L1473.8 56.54L1473.8 50.59zM1493.18 47.28L1498.77 50.26L1498.77 56.21L1493.18 59.18L1487.59 56.21L1487.59 50.26zM1506.97 46.95L1512.56 49.92L1512.56 55.88L1506.97 58.85L1501.38 55.88L1501.38 49.92z" fill="#0000ff" stroke="#0000ff" stroke-width="0.3"/>
<path d="M914 64.45L919.59 67.43L919.59 73.38L914 76.35L908.41 73.38L908.41 67.43zM927.79 64.37L933.38 67.34L933.38 73.29L927.79 76.27L922.2 73.29L922.2 67.34zM941.58 64.29L947.17 67.26L947.17 73.21L941.58 76.19L935.99 73.21L935.99 67.26zM955.37 64.2L960.96 67.18L960.96 73.13L955.37 76.1L949.78 73.13L949.78 67.18zM969.16 64.12L974.75 67.1L974.75 73.05L969.16 76.02L963.57 73.05L963.57 67.1zM982.95 64.04L988.54 67.02L988.54 72.97L982.95 75.94L977.36 72.97L977.36 67.02zM996.74 63.96L1002.33 66.93L1002.33 72.88L996.74 75.86L991.15 72.88L991.15 66.93zM1010.53 63.88L1016.12 66.85L1016.12 72.8L1010.53 75.78L1004.94 72.8L1004.94 66.85zM1024.32 63.8L1029.91 66.77L1029.91 72.72L1024.32 75.7L1018.73 72.72L1018.73 66.77zM1038.11 63.71L1043.7 66.69L1043.7 72.64L1038.11 75.61L1032.52 72.64L1032.52 66.69zM1051.9 63.63L1057.49 66.61L1057.49 72.56L1051.9 75.53L1046.31 72.56L1046.31 66.61zM1065.69 63.55L1071.28 66.53L1071.28 72.47L1065.69 75.45L1060.1 72.47L1060.1 66.53zM1079.48 63.47L1085.07 66.44L1085.07 72.39L1079.48 75.37L1073.89 72.39L1073.89 66.44zM1093.27 63.39L1098.86 66.36L1098.86 72.31L1093.27 75.29L1087.68 72.31L1087.68 66.36zM1107.06 63.3L1112.65 66.28L1112.65 72.23L1107.06 75.2L1101.47 72.23L1101.47 66.28zM1120.85 63.22L1126.44 66.2L1126.44 72.15L1120.85 75.12L1115.26 72.15L1115.26 66.2zM1134.64 63.14L1140.23 66.12L1140.23 72.07L1134.64 75.04L1129.05 72.07L1129.05 66.12zM1148.43 63.06L1154.02 66.03L1154.02 71.98L1148.43 74.96L1142.84 71.98L1142.84 66.03zM1162.22 62.98L1167.81 65.95L1167.81 71.9L1162.22 74.88L1156.63 71.9L1156.63 65.95zM1176.01 62.9L1181.6 65.87L1181.6 71.82L1176.01 74.8L1170.42 71.82L1170.42 65.87zM1189.8 62.81L1195.39 65.79L1195.39 71.74L1189.8 74.71L1184.21 71.74L1184.21 65.79zM1203.59 62.73L1209.18 65.71L1209.18 71.66L1203.59 74.63L1198 71.66L1198 65.71zM1217.38 62.65L1222.97 65.62L1222.97 71.57L1217.38 74.55L1211.79 71.57L1211.79 65.62zM1231.17 62.71L1236.76 65.68L1236.76 71.63L1231.17 74.61L1225.58 71.63L1225.58 65.68zM1244.96 62.76L1250.55 65.74L1250.55 71.69L1244.96 74.66L1239.37 71.69L1239.37 65.74zM1258.75 62.82L1264.34 65.79L1264.34 71.74L1258.75 74.72L1253.16 71.74L1253.16 65.79zM1272.54 62.87L1278.13 65.85L1278.13 71.8L1272.54 74.77L1266.95 71.8L1266.95 65.85zM1286.33 62.93L1291.92 65.9L1291.92 71.85L1286.33 74.83L1280.74 71.85L1280.74 65.9zM1300.12 62.98L1305.71 65.96L1305.71 71.91L1300.12 74.88L1294.53 71.91L1294.53 65.96zM1313.91 63.04L1319.5 66.01L1319.5 71.96L1313.91 74.94L1308.32 71.96L1308.32 66.01zM1327.7 63.09L1333.29 66.07L1333.29 72.02L1327.7 74.99L1322.11 72.02L1322.11 66.07zM1341.49 63.15L1347.08 66.12L1347.08 72.07L1341.49 75.05L1335.9 72.07L1335.9 66.12zM1355.28 63.21L1360.87 66.18L1360.87 72.13L1355.28 75.11L1349.69 72.13L1349.69 66.18zM1369.07 63.26L1374.66 66.24L1374.66 72.19L1369.07 75.16L1363.48 72.19L1363.48 66.24zM1382.86 63.32L1388.45 66.29L1388.45 72.24L1382.86 75.22L1377.27 72.24L1377.27 66.29zM1396.65 63.37L1402.24 66.35L1402.24 72.3L1396.65 75.27L1391.06 72.3L1391.06 66.35zM1410.44 63.43L1416.03 66.4L1416.03 72.35L1410.44 75.33L1404.85 72.35L1404.85 66.4zM1424.23 63.48L1429.82 66.46L1429.82 72.41L1424.23 75.38L1418.64 72.41L1418.64 66.46zM1438.02 63.54L1443.61 66.51L1443.61 72.46L1438.02 75.44L1432.43 72.46L1432.43 66.51zM1451.81 63.59L1457.4 66.57L1457.4 72.52L1451.81 75.49L1446.22 72.52L1446.22 66.57zM1465.6 63.65L1471.19 66.62L1471.19 72.57L1465.6 75.55L1460.01 72.57L1460.01 66.62zM1479.39 64.08L1484.98 67.06L1484.98 73.01L1479.39 75.98L1473.8 73.01L1473.8 67.06zM1493.18 64.52L1498.77 67.49L1498.77 73.44L1493.18 76.42L1487.59 73.44L1487.59 67.49zM1506.97 64.95L1512.56 67.93L1512.56 73.88L1506.97 76.85L1501.38 73.88L1501.38 67.93z" fill="#fff" stroke="#0000ff" stroke-width="0.8"/>
<path d="M914 421.5L915.48 426.06L920.28 426.06L916.4 428.88L917.88 433.44L914 430.62L910.12 433.44L911.6 428.88L907.72 426.06L912.52 426.06zM927.79 399.1L929.27 403.66L934.07 403.66L930.19 406.48L931.67 411.04L927.79 408.22L923.91 411.04L925.39 406.48L921.51 403.66L926.31 403.66zM941.58 417L943.06 421.56L947.86 421.56L943.98 424.38L945.46 428.94L941.58 426.12L937.7 428.94L939.18 424.38L935.3 421.56L940.1 421.56zM955.37 417L956.85 421.56L961.65 421.56L957.77 424.38L959.25 428.94L955.37 426.12L951.49 428.94L952.97 424.38L949.09 421.56L953.89 421.56zM969.16 422.1L970.64 426.66L975.44 426.66L971.56 429.48L973.04 434.04L969.16 431.22L965.28 434.04L966.76 429.48L962.88 426.66L967.68 426.66zM982.95 413.1L984.43 417.66L989.23 417.66L985.35 420.48L986.83 425.04L982.95 422.22L979.07 425.04L980.55 420.48L976.67 417.66L981.47 417.66zM996.74 417.6L998.22 422.16L1003.02 422.16L999.14 424.98L1000.62 429.54L996.74 426.72L992.86 429.54L994.34 424.98L990.46 422.16L995.26 422.16zM1010.53 402.7L1012.01 407.26L1016.81 407.26L1012.93 410.08L1014.41 414.64L1010.53 411.82L1006.65 414.64L1008.13 410.08L1004.25 407.26L1009.05 407.26zM1024.32 407.1L1025.8 411.66L1030.6 411.66L1026.72 414.48L1028.2 419.04L1024.32 416.22L1020.44 419.04L1021.92 414.48L1018.04 411.66L1022.84 411.66zM1038.11 403L1039.59 407.56L1044.39 407.56L1040.51 410.38L1041.99 414.94L1038.11 412.12L1034.23 414.94L1035.71 410.38L1031.83 407.56L1036.63 407.56zM1051.9 400.6L1053.38 405.16L1058.18 405.16L1054.3 407.98L1055.78 412.54L1051.9 409.72L1048.02 412.54L1049.5 407.98L1045.62 405.16L1050.42 405.16zM1065.69 397.6L1067.17 402.16L1071.97 402.16L1068.09 404.98L1069.57 409.54L1065.69 406.72L1061.81 409.54L1063.29 404.98L1059.41 402.16L1064.21 402.16zM1079.48 395.2L1080.96 399.76L1085.76 399.76L1081.88 402.58L1083.36 407.14L1079.48 404.32L1075.6 407.14L1077.08 402.58L1073.2 399.76L1078 399.76zM1093.27 390.7L1094.75 395.26L1099.55 395.26L1095.67 398.08L1097.15 402.64L1093.27 399.82L1089.39 402.64L1090.87 398.08L1086.99 395.26L1091.79 395.26zM1107.06 388L1108.54 392.56L1113.34 392.56L1109.46 395.38L1110.94 399.94L1107.06 397.12L1103.18 399.94L1104.66 395.38L1100.78 392.56L1105.58 392.56zM1120.85 384.7L1122.33 389.26L1127.13 389.26L1123.25 392.08L1124.73 396.64L1120.85 393.82L1116.97 396.64L1118.45 392.08L1114.57 389.26L1119.37 389.26zM1134.64 381.3L1136.12 385.86L1140.92 385.86L1137.04 388.68L1138.52 393.24L1134.64 390.42L1130.76 393.24L1132.24 388.68L1128.36 385.86L1133.16 385.86zM1148.43 377.63L1149.91 382.19L1154.71 382.19L1150.83 385.01L1152.31 389.57L1148.43 386.75L1144.55 389.57L1146.03 385.01L1142.15 382.19L1146.95 382.19zM1162.22 373.95L1163.7 378.51L1168.5 378.52L1164.62 381.33L1166.1 385.89L1162.22 383.08L1158.34 385.89L1159.82 381.33L1155.94 378.52L1160.74 378.51zM1176.01 370.28L1177.49 374.84L1182.29 374.84L1178.41 377.66L1179.89 382.22L1176.01 379.4L1172.13 382.22L1173.61 377.66L1169.73 374.84L1174.53 374.84zM1189.8 366.61L1191.28 371.17L1196.08 371.17L1192.2 373.99L1193.68 378.55L1189.8 375.73L1185.92 378.55L1187.4 373.99L1183.52 371.17L1188.32 371.17zM1203.59 362.94L1205.07 367.5L1209.87 367.5L1205.99 370.32L1207.47 374.88L1203.59 372.06L1199.71 374.88L1201.19 370.32L1197.31 367.5L1202.11 367.5zM1217.38 359.26L1218.86 363.82L1223.66 363.82L1219.78 366.64L1221.26 371.2L1217.38 368.38L1213.5 371.2L1214.98 366.64L1211.1 363.82L1215.9 363.82zM1231.17 355.59L1232.65 360.15L1237.45 360.15L1233.57 362.97L1235.05 367.53L1231.17 364.71L1227.29 367.53L1228.77 362.97L1224.89 360.15L1229.69 360.15zM1244.96 351.92L1246.44 356.48L1251.24 356.48L1247.36 359.3L1248.84 363.86L1244.96 361.04L1241.08 363.86L1242.56 359.3L1238.68 356.48L1243.48 356.48zM1258.75 348.25L1260.23 352.81L1265.03 352.81L1261.15 355.62L1262.63 360.18L1258.75 357.37L1254.87 360.18L1256.35 355.62L1252.47 352.81L1257.27 352.81zM1272.54 344.57L1274.02 349.13L1278.82 349.13L1274.94 351.95L1276.42 356.51L1272.54 353.69L1268.66 356.51L1270.14 351.95L1266.26 349.13L1271.06 349.13zM1286.33 340.9L1287.81 345.46L1292.61 345.46L1288.73 348.28L1290.21 352.84L1286.33 350.02L1282.45 352.84L1283.93 348.28L1280.05 345.46L1284.85 345.46zM1300.12 337.28L1301.6 341.84L1306.4 341.84L1302.52 344.66L1304 349.22L1300.12 346.4L1296.24 349.22L1297.72 344.66L1293.84 341.84L1298.64 341.84zM1313.91 333.66L1315.39 338.22L1320.19 338.22L1316.31 341.04L1317.79 345.6L1313.91 342.78L1310.03 345.6L1311.51 341.04L1307.63 338.22L1312.43 338.22zM1327.7 330.05L1329.18 334.61L1333.98 334.61L1330.1 337.42L1331.58 341.98L1327.7 339.17L1323.82 341.98L1325.3 337.42L1321.42 334.61L1326.22 334.61zM1341.49 326.43L1342.97 330.99L1347.77 330.99L1343.89 333.81L1345.37 338.37L1341.49 335.55L1337.61 338.37L1339.09 333.81L1335.21 330.99L1340.01 330.99zM1355.28 322.81L1356.76 327.37L1361.56 327.37L1357.68 330.19L1359.16 334.75L1355.28 331.93L1351.4 334.75L1352.88 330.19L1349 327.37L1353.8 327.37zM1369.07 319.19L1370.55 323.75L1375.35 323.75L1371.47 326.57L1372.95 331.13L1369.07 328.31L1365.19 331.13L1366.67 326.57L1362.79 323.75L1367.59 323.75zM1382.86 315.57L1384.34 320.13L1389.14 320.13L1385.26 322.95L1386.74 327.51L1382.86 324.69L1378.98 327.51L1380.46 322.95L1376.58 320.13L1381.38 320.13zM1396.65 311.95L1398.13 316.51L1402.93 316.52L1399.05 319.33L1400.53 323.89L1396.65 321.08L1392.77 323.89L1394.25 319.33L1390.37 316.52L1395.17 316.51zM1410.44 308.34L1411.92 312.9L1416.72 312.9L1412.84 315.72L1414.32 320.28L1410.44 317.46L1406.56 320.28L1408.04 315.72L1404.16 312.9L1408.96 312.9zM1424.23 304.72L1425.71 309.28L1430.51 309.28L1426.63 312.1L1428.11 316.66L1424.23 313.84L1420.35 316.66L1421.83 312.1L1417.95 309.28L1422.75 309.28zM1438.02 301.1L1439.5 305.66L1444.3 305.66L1440.42 308.48L1441.9 313.04L1438.02 310.22L1434.14 313.04L1435.62 308.48L1431.74 305.66L1436.54 305.66zM1451.81 295.3L1453.29 299.86L1458.09 299.86L1454.21 302.68L1455.69 307.24L1451.81 304.42L1447.93 307.24L1449.41 302.68L1445.53 299.86L1450.33 299.86zM1465.6 291.45L1467.08 296.01L1471.88 296.01L1468 298.83L1469.48 303.39L1465.6 300.57L1461.72 303.39L1463.2 298.83L1459.32 296.01L1464.12 296.01zM1479.39 287.6L1480.87 292.16L1485.67 292.16L1481.79 294.98L1483.27 299.54L1479.39 296.72L1475.51 299.54L1476.99 294.98L1473.11 292.16L1477.91 292.16zM1493.18 283.75L1494.66 288.31L1499.46 288.31L1495.58 291.13L1497.06 295.69L1493.18 292.87L1489.3 295.69L1490.78 291.13L1486.9 288.31L1491.7 288.31zM1506.97 279.9L1508.45 284.46L1513.25 284.46L1509.37 287.28L1510.85 291.84L1506.97 289.02L1503.09 291.84L1504.57 287.28L1500.69 284.46L1505.49 284.46z" fill="#ff0000" stroke="#ff0000" stroke-width="0.3"/>
<path d="M914 245.5L915.48 250.06L920.28 250.06L916.4 252.88L917.88 257.44L914 254.62L910.12 257.44L911.6 252.88L907.72 250.06L912.52 250.06zM927.79 242.8L929.27 247.36L934.07 247.36L930.19 250.18L931.67 254.74L927.79 251.92L923.91 254.74L925.39 250.18L921.51 247.36L926.31 247.36zM941.58 240.2L943.06 244.76L947.86 244.76L943.98 247.58L945.46 252.14L941.58 249.32L937.7 252.14L939.18 247.58L935.3 244.76L940.1 244.76zM955.37 242.2L956.85 246.76L961.65 246.76L957.77 249.58L959.25 254.14L955.37 251.32L951.49 254.14L952.97 249.58L949.09 246.76L953.89 246.76zM969.16 242.8L970.64 247.36L975.44 247.36L971.56 250.18L973.04 254.74L969.16 251.92L965.28 254.74L966.76 250.18L962.88 247.36L967.68 247.36zM982.95 236.8L984.43 241.36L989.23 241.36L985.35 244.18L986.83 248.74L982.95 245.92L979.07 248.74L980.55 244.18L976.67 241.36L981.47 241.36zM996.74 235.2L998.22 239.76L1003.02 239.76L999.14 242.58L1000.62 247.14L996.74 244.32L992.86 247.14L994.34 242.58L990.46 239.76L995.26 239.76zM1010.53 234.2L1012.01 238.76L1016.81 238.76L1012.93 241.58L1014.41 246.14L1010.53 243.32L1006.65 246.14L1008.13 241.58L1004.25 238.76L1009.05 238.76zM1024.32 230.8L1025.8 235.36L1030.6 235.36L1026.72 238.18L1028.2 242.74L1024.32 239.92L1020.44 242.74L1021.92 238.18L1018.04 235.36L1022.84 235.36zM1038.11 226.2L1039.59 230.76L1044.39 230.76L1040.51 233.58L1041.99 238.14L1038.11 235.32L1034.23 238.14L1035.71 233.58L1031.83 230.76L1036.63 230.76zM1051.9 223.9L1053.38 228.46L1058.18 228.46L1054.3 231.28L1055.78 235.84L1051.9 233.02L1048.02 235.84L1049.5 231.28L1045.62 228.46L1050.42 228.46zM1065.69 220.46L1067.17 225.02L1071.97 225.02L1068.09 227.83L1069.57 232.4L1065.69 229.58L1061.81 232.4L1063.29 227.83L1059.41 225.02L1064.21 225.02zM1079.48 217.01L1080.96 221.57L1085.76 221.57L1081.88 224.39L1083.36 228.95L1079.48 226.13L1075.6 228.95L1077.08 224.39L1073.2 221.57L1078 221.57zM1093.27 213.57L1094.75 218.13L1099.55 218.13L1095.67 220.95L1097.15 225.51L1093.27 222.69L1089.39 225.51L1090.87 220.95L1086.99 218.13L1091.79 218.13zM1107.06 210.12L1108.54 214.68L1113.34 214.68L1109.46 217.5L1110.94 222.06L1107.06 219.24L1103.18 222.06L1104.66 217.5L1100.78 214.68L1105.58 214.68zM1120.85 206.68L1122.33 211.24L1127.13 211.24L1123.25 214.06L1124.73 218.62L1120.85 215.8L1116.97 218.62L1118.45 214.06L1114.57 211.24L1119.37 211.24zM1134.64 203.23L1136.12 207.79L1140.92 207.79L1137.04 210.61L1138.52 215.17L1134.64 212.35L1130.76 215.17L1132.24 210.61L1128.36 207.79L1133.16 207.79zM1148.43 199.79L1149.91 204.35L1154.71 204.35L1150.83 207.17L1152.31 211.73L1148.43 208.91L1144.55 211.73L1146.03 207.17L1142.15 204.35L1146.95 204.35zM1162.22 196.34L1163.7 200.9L1168.5 200.9L1164.62 203.72L1166.1 208.28L1162.22 205.47L1158.34 208.28L1159.82 203.72L1155.94 200.9L1160.74 200.9zM1176.01 192.9L1177.49 197.46L1182.29 197.46L1178.41 200.28L1179.89 204.84L1176.01 202.02L1172.13 204.84L1173.61 200.28L1169.73 197.46L1174.53 197.46zM1189.8 189.22L1191.28 193.79L1196.08 193.79L1192.2 196.6L1193.68 201.16L1189.8 198.35L1185.92 201.16L1187.4 196.6L1183.52 193.79L1188.32 193.79zM1203.59 185.55L1205.07 190.11L1209.87 190.11L1205.99 192.93L1207.47 197.49L1203.59 194.67L1199.71 197.49L1201.19 192.93L1197.31 190.11L1202.11 190.11zM1217.38 181.88L1218.86 186.44L1223.66 186.44L1219.78 189.25L1221.26 193.81L1217.38 191L1213.5 193.81L1214.98 189.25L1211.1 186.44L1215.9 186.44zM1231.17 178.2L1232.65 182.76L1237.45 182.76L1233.57 185.58L1235.05 190.14L1231.17 187.32L1227.29 190.14L1228.77 185.58L1224.89 182.76L1229.69 182.76zM1244.96 174.53L1246.44 179.09L1251.24 179.09L1247.36 181.9L1248.84 186.46L1244.96 183.65L1241.08 186.46L1242.56 181.9L1238.68 179.09L1243.48 179.09zM1258.75 170.85L1260.23 175.41L1265.03 175.41L1261.15 178.23L1262.63 182.79L1258.75 179.97L1254.87 182.79L1256.35 178.23L1252.47 175.41L1257.27 175.41zM1272.54 167.18L1274.02 171.74L1278.82 171.74L1274.94 174.55L1276.42 179.11L1272.54 176.3L1268.66 179.11L1270.14 174.55L1266.26 171.74L1271.06 171.74zM1286.33 163.5L1287.81 168.06L1292.61 168.06L1288.73 170.88L1290.21 175.44L1286.33 172.62L1282.45 175.44L1283.93 170.88L1280.05 168.06L1284.85 168.06zM1300.12 159.95L1301.6 164.51L1306.4 164.51L1302.52 167.32L1304 171.88L1300.12 169.07L1296.24 171.88L1297.72 167.32L1293.84 164.51L1298.64 164.51zM1313.91 156.39L1315.39 160.95L1320.19 160.95L1316.31 163.77L1317.79 168.33L1313.91 165.51L1310.03 168.33L1311.51 163.77L1307.63 160.95L1312.43 160.95zM1327.7 152.84L1329.18 157.4L1333.98 157.4L1330.1 160.22L1331.58 164.78L1327.7 161.96L1323.82 164.78L1325.3 160.22L1321.42 157.4L1326.22 157.4zM1341.49 149.28L1342.97 153.84L1347.77 153.84L1343.89 156.66L1345.37 161.22L1341.49 158.4L1337.61 161.22L1339.09 156.66L1335.21 153.84L1340.01 153.84zM1355.28 145.73L1356.76 150.29L1361.56 150.29L1357.68 153.11L1359.16 157.67L1355.28 154.85L1351.4 157.67L1352.88 153.11L1349 150.29L1353.8 150.29zM1369.07 142.17L1370.55 146.73L1375.35 146.73L1371.47 149.55L1372.95 154.11L1369.07 151.29L1365.19 154.11L1366.67 149.55L1362.79 146.73L1367.59 146.73zM1382.86 138.62L1384.34 143.18L1389.14 143.18L1385.26 146L1386.74 150.56L1382.86 147.74L1378.98 150.56L1380.46 146L1376.58 143.18L1381.38 143.18zM1396.65 135.06L1398.13 139.62L1402.93 139.62L1399.05 142.44L1400.53 147L1396.65 144.18L1392.77 147L1394.25 142.44L1390.37 139.62L1395.17 139.62zM1410.44 131.51L1411.92 136.07L1416.72 136.07L1412.84 138.89L1414.32 143.45L1410.44 140.63L1406.56 143.45L1408.04 138.89L1404.16 136.07L1408.96 136.07zM1424.23 127.95L1425.71 132.51L1430.51 132.52L1426.63 135.33L1428.11 139.89L1424.23 137.08L1420.35 139.89L1421.83 135.33L1417.95 132.52L1422.75 132.51zM1438.02 124.4L1439.5 128.96L1444.3 128.96L1440.42 131.78L1441.9 136.34L1438.02 133.52L1434.14 136.34L1435.62 131.78L1431.74 128.96L1436.54 128.96zM1451.81 118.2L1453.29 122.76L1458.09 122.76L1454.21 125.58L1455.69 130.14L1451.81 127.32L1447.93 130.14L1449.41 125.58L1445.53 122.76L1450.33 122.76zM1465.6 114.48L1467.08 119.04L1471.88 119.04L1468 121.85L1469.48 126.41L1465.6 123.6L1461.72 126.41L1463.2 121.85L1459.32 119.04L1464.12 119.04zM1479.39 110.75L1480.87 115.31L1485.67 115.31L1481.79 118.13L1483.27 122.69L1479.39 119.87L1475.51 122.69L1476.99 118.13L1473.11 115.31L1477.91 115.31zM1493.18 107.03L1494.66 111.59L1499.46 111.59L1495.58 114.4L1497.06 118.96L1493.18 116.15L1489.3 118.96L1490.78 114.4L1486.9 111.59L1491.7 111.59zM1506.97 103.3L1508.45 107.86L1513.25 107.86L1509.37 110.68L1510.85 115.24L1506.97 112.42L1503.09 115.24L1504.57 110.68L1500.69 107.86L1505.49 107.86z" fill="#fff" stroke="#ff0000" stroke-width="0.8"/>
<path d="M908.8 297.3h10.4v10.4h-10.4zM922.59 430.9h10.4v10.4h-10.4zM936.38 433.9h10.4v10.4h-10.4zM950.17 431.2h10.4v10.4h-10.4zM963.96 429.7h10.4v10.4h-10.4zM977.75 429.4h10.4v10.4h-10.4zM991.54 427.9h10.4v10.4h-10.4zM1005.33 423.8h10.4v10.4h-10.4zM1019.12 421.4h10.4v10.4h-10.4zM1032.91 415.4h10.4v10.4h-10.4zM1046.7 410.3h10.4v10.4h-10.4zM1060.49 408.5h10.4v10.4h-10.4zM1074.28 405.5h10.4v10.4h-10.4zM1088.07 402h10.4v10.4h-10.4zM1101.86 399h10.4v10.4h-10.4zM1115.65 396h10.4v10.4h-10.4zM1129.44 392.4h10.4v10.4h-10.4zM1143.23 388.94h10.4v10.4h-10.4zM1157.02 385.47h10.4v10.4h-10.4zM1170.81 382.01h10.4v10.4h-10.4zM1184.6 378.55h10.4v10.4h-10.4zM1198.39 375.08h10.4v10.4h-10.4zM1212.18 371.62h10.4v10.4h-10.4zM1225.97 368.15h10.4v10.4h-10.4zM1239.76 364.69h10.4v10.4h-10.4zM1253.55 361.23h10.4v10.4h-10.4zM1267.34 357.76h10.4v10.4h-10.4zM1281.13 354.3h10.4v10.4h-10.4zM1294.92 350.75h10.4v10.4h-10.4zM1308.71 347.21h10.4v10.4h-10.4zM1322.5 343.66h10.4v10.4h-10.4zM1336.29 340.12h10.4v10.4h-10.4zM1350.08 336.57h10.4v10.4h-10.4zM1363.87 333.03h10.4v10.4h-10.4zM1377.66 329.48h10.4v10.4h-10.4zM1391.45 325.94h10.4v10.4h-10.4zM1405.24 322.39h10.4v10.4h-10.4zM1419.03 318.85h10.4v10.4h-10.4zM1432.82 315.3h10.4v10.4h-10.4zM1446.61 309.2h10.4v10.4h-10.4zM1460.4 305.07h10.4v10.4h-10.4zM1474.19 300.95h10.4v10.4h-10.4zM1487.98 296.82h10.4v10.4h-10.4zM1501.77 292.7h10.4v10.4h-10.4z" fill="#000000" stroke="#000000" stroke-width="0.3"/>
<path d="M908.8 259.5h10.4v10.4h-10.4zM922.59 253.9h10.4v10.4h-10.4zM936.38 257.5h10.4v10.4h-10.4zM950.17 254.1h10.4v10.4h-10.4zM963.96 253.9h10.4v10.4h-10.4zM977.75 252.9h10.4v10.4h-10.4zM991.54 251.5h10.4v10.4h-10.4zM1005.33 247.5h10.4v10.4h-10.4zM1019.12 244.9h10.4v10.4h-10.4zM1032.91 239.6h10.4v10.4h-10.4zM1046.7 234.6h10.4v10.4h-10.4zM1060.49 231.37h10.4v10.4h-10.4zM1074.28 228.13h10.4v10.4h-10.4zM1088.07 224.9h10.4v10.4h-10.4zM1101.86 221.67h10.4v10.4h-10.4zM1115.65 218.43h10.4v10.4h-10.4zM1129.44 215.2h10.4v10.4h-10.4zM1143.23 211.97h10.4v10.4h-10.4zM1157.02 208.73h10.4v10.4h-10.4zM1170.81 205.5h10.4v10.4h-10.4zM1184.6 202.1h10.4v10.4h-10.4zM1198.39 198.7h10.4v10.4h-10.4zM1212.18 195.3h10.4v10.4h-10.4zM1225.97 191.9h10.4v10.4h-10.4zM1239.76 188.5h10.4v10.4h-10.4zM1253.55 185.1h10.4v10.4h-10.4zM1267.34 181.7h10.4v10.4h-10.4zM1281.13 178.3h10.4v10.4h-10.4zM1294.92 174.65h10.4v10.4h-10.4zM1308.71 171.01h10.4v10.4h-10.4zM1322.5 167.36h10.4v10.4h-10.4zM1336.29 163.72h10.4v10.4h-10.4zM1350.08 160.07h10.4v10.4h-10.4zM1363.87 156.43h10.4v10.4h-10.4zM1377.66 152.78h10.4v10.4h-10.4zM1391.45 149.14h10.4v10.4h-10.4zM1405.24 145.49h10.4v10.4h-10.4zM1419.03 141.85h10.4v10.4h-10.4zM1432.82 138.2h10.4v10.4h-10.4zM1446.61 132.5h10.4v10.4h-10.4zM1460.4 128.32h10.4v10.4h-10.4zM1474.19 124.15h10.4v10.4h-10.4zM1487.98 119.97h10.4v10.4h-10.4zM1501.77 115.8h10.4v10.4h-10.4z" fill="#fff" stroke="#000000" stroke-width="0.8"/>
<path d="M914 37.5V38.3M909.3 37.5h9.4M909.3 38.3h9.4M927.79 37.23V38.03M923.09 37.23h9.4M923.09 38.03h9.4M941.58 36.95V37.75M936.88 36.95h9.4M936.88 37.75h9.4M955.37 36.68V37.48M950.67 36.68h9.4M950.67 37.48h9.4M969.16 36.41V37.21M964.46 36.41h9.4M964.46 37.21h9.4M982.95 36.14V36.94M978.25 36.14h9.4M978.25 36.94h9.4M996.74 35.86V36.66M992.04 35.86h9.4M992.04 36.66h9.4M1010.53 35.59V36.39M1005.83 35.59h9.4M1005.83 36.39h9.4M1024.32 35.32V36.12M1019.62 35.32h9.4M1019.62 36.12h9.4M1038.11 35.05V35.85M1033.41 35.05h9.4M1033.41 35.85h9.4M1051.9 34.77V35.57M1047.2 34.77h9.4M1047.2 35.57h9.4M1065.69 34.5V35.3M1060.99 34.5h9.4M1060.99 35.3h9.4M1079.48 34.23V35.03M1074.78 34.23h9.4M1074.78 35.03h9.4M1093.27 33.95V34.75M1088.57 33.95h9.4M1088.57 34.75h9.4M1107.06 33.68V34.48M1102.36 33.68h9.4M1102.36 34.48h9.4M1120.85 33.41V34.21M1116.15 33.41h9.4M1116.15 34.21h9.4M1134.64 33.14V33.94M1129.94 33.14h9.4M1129.94 33.94h9.4M1148.43 32.86V33.66M1143.73 32.86h9.4M1143.73 33.66h9.4M1162.22 32.59V33.39M1157.52 32.59h9.4M1157.52 33.39h9.4M1176.01 32.32V33.12M1171.31 32.32h9.4M1171.31 33.12h9.4M1189.8 32.05V32.85M1185.1 32.05h9.4M1185.1 32.85h9.4M1203.59 31.77V32.57M1198.89 31.77h9.4M1198.89 32.57h9.4M1217.38 31.5V32.3M1212.68 31.5h9.4M1212.68 32.3h9.4M1231.17 31.07V31.87M1226.47 31.07h9.4M1226.47 31.87h9.4M1244.96 30.64V31.44M1240.26 30.64h9.4M1240.26 31.44h9.4M1258.75 30.21V31.01M1254.05 30.21h9.4M1254.05 31.01h9.4M1272.54 29.79V30.59M1267.84 29.79h9.4M1267.84 30.59h9.4M1286.33 29.36V30.16M1281.63 29.36h9.4M1281.63 30.16h9.4M1300.12 28.93V29.73M1295.42 28.93h9.4M1295.42 29.73h9.4M1313.91 28.5V29.3M1309.21 28.5h9.4M1309.21 29.3h9.4M1327.7 28.07V28.87M1323 28.07h9.4M1323 28.87h9.4M1341.49 27.64V28.44M1336.79 27.64h9.4M1336.79 28.44h9.4M1355.28 27.21V28.01M1350.58 27.21h9.4M1350.58 28.01h9.4M1369.07 26.79V27.59M1364.37 26.79h9.4M1364.37 27.59h9.4M1382.86 26.36V27.16M1378.16 26.36h9.4M1378.16 27.16h9.4M1396.65 25.93V26.73M1391.95 25.93h9.4M1391.95 26.73h9.4M1410.44 25.5V26.3M1405.74 25.5h9.4M1405.74 26.3h9.4M1424.23 25.07V25.87M1419.53 25.07h9.4M1419.53 25.87h9.4M1438.02 24.64V25.44M1433.32 24.64h9.4M1433.32 25.44h9.4M1451.81 24.21V25.01M1447.11 24.21h9.4M1447.11 25.01h9.4M1465.6 23.79V24.59M1460.9 23.79h9.4M1460.9 24.59h9.4M1479.39 23.36V24.16M1474.69 23.36h9.4M1474.69 24.16h9.4M1493.18 22.93V23.73M1488.48 22.93h9.4M1488.48 23.73h9.4M1506.97 22.5V23.3M1502.27 22.5h9.4M1502.27 23.3h9.4" fill="none" stroke="#ff8000" stroke-width="0.8"/>
<path d="M909.3 43.1h9.4M923.09 42.88h9.4M936.88 42.65h9.4M950.67 42.43h9.4M964.46 42.21h9.4M978.25 41.99h9.4M992.04 41.76h9.4M1005.83 41.54h9.4M1019.62 41.32h9.4M1033.41 41.1h9.4M1047.2 40.87h9.4M1060.99 40.65h9.4M1074.78 40.43h9.4M1088.57 40.2h9.4M1102.36 39.98h9.4M1116.15 39.76h9.4M1129.94 39.54h9.4M1143.73 39.31h9.4M1157.52 39.09h9.4M1171.31 38.87h9.4M1185.1 38.65h9.4M1198.89 38.42h9.4M1212.68 38.2h9.4M1226.47 38h9.4M1240.26 37.81h9.4M1254.05 37.61h9.4M1267.84 37.42h9.4M1281.63 37.22h9.4M1295.42 37.03h9.4M1309.21 36.83h9.4M1323 36.64h9.4M1336.79 36.44h9.4M1350.58 36.25h9.4M1364.37 36.05h9.4M1378.16 35.86h9.4M1391.95 35.66h9.4M1405.74 35.47h9.4M1419.53 35.27h9.4M1433.32 35.08h9.4M1447.11 34.88h9.4M1460.9 34.69h9.4M1474.69 34.49h9.4M1488.48 34.3h9.4M1502.27 34.1h9.4" fill="none" stroke="#ff8000" stroke-width="0.8"/>
<path d="M914 36.54V40.48M909.3 36.54h9.4M909.3 40.48h9.4M927.79 36.44V40.38M923.09 36.44h9.4M923.09 40.38h9.4M941.58 36.34V40.28M936.88 36.34h9.4M936.88 40.28h9.4M955.37 36.24V40.18M950.67 36.24h9.4M950.67 40.18h9.4M969.16 36.14V40.08M964.46 36.14h9.4M964.46 40.08h9.4M982.95 36.04V39.98M978.25 36.04h9.4M978.25 39.98h9.4M996.74 35.94V39.88M992.04 35.94h9.4M992.04 39.88h9.4M1010.53 35.84V39.78M1005.83 35.84h9.4M1005.83 39.78h9.4M1024.32 35.74V39.68M1019.62 35.74h9.4M1019.62 39.68h9.4M1038.11 35.64V39.58M1033.41 35.64h9.4M1033.41 39.58h9.4M1051.9 35.54V39.48M1047.2 35.54h9.4M1047.2 39.48h9.4M1065.69 35.44V39.38M1060.99 35.44h9.4M1060.99 39.38h9.4M1079.48 35.34V39.28M1074.78 35.34h9.4M1074.78 39.28h9.4M1093.27 35.24V39.18M1088.57 35.24h9.4M1088.57 39.18h9.4M1107.06 35.14V39.08M1102.36 35.14h9.4M1102.36 39.08h9.4M1120.85 35.04V38.98M1116.15 35.04h9.4M1116.15 38.98h9.4M1134.64 34.94V38.88M1129.94 34.94h9.4M1129.94 38.88h9.4M1148.43 34.84V38.78M1143.73 34.84h9.4M1143.73 38.78h9.4M1162.22 34.74V38.68M1157.52 34.74h9.4M1157.52 38.68h9.4M1176.01 34.64V38.58M1171.31 34.64h9.4M1171.31 38.58h9.4M1189.8 34.54V38.48M1185.1 34.54h9.4M1185.1 38.48h9.4M1203.59 34.44V38.38M1198.89 34.44h9.4M1198.89 38.38h9.4M1217.38 34.34V38.28M1212.68 34.34h9.4M1212.68 38.28h9.4M1231.17 34.31V38.24M1226.47 34.31h9.4M1226.47 38.24h9.4M1244.96 34.27V38.21M1240.26 34.27h9.4M1240.26 38.21h9.4M1258.75 34.24V38.18M1254.05 34.24h9.4M1254.05 38.18h9.4M1272.54 34.21V38.14M1267.84 34.21h9.4M1267.84 38.14h9.4M1286.33 34.17V38.11M1281.63 34.17h9.4M1281.63 38.11h9.4M1300.12 34.14V38.08M1295.42 34.14h9.4M1295.42 38.08h9.4M1313.91 34.11V38.04M1309.21 34.11h9.4M1309.21 38.04h9.4M1327.7 34.07V38.01M1323 34.07h9.4M1323 38.01h9.4M1341.49 34.04V37.98M1336.79 34.04h9.4M1336.79 37.98h9.4M1355.28 34.01V37.94M1350.58 34.01h9.4M1350.58 37.94h9.4M1369.07 33.97V37.91M1364.37 33.97h9.4M1364.37 37.91h9.4M1382.86 33.94V37.88M1378.16 33.94h9.4M1378.16 37.88h9.4M1396.65 33.91V37.84M1391.95 33.91h9.4M1391.95 37.84h9.4M1410.44 33.87V37.81M1405.74 33.87h9.4M1405.74 37.81h9.4M1424.23 33.84V37.78M1419.53 33.84h9.4M1419.53 37.78h9.4M1438.02 33.81V37.74M1433.32 33.81h9.4M1433.32 37.74h9.4M1451.81 33.77V37.71M1447.11 33.77h9.4M1447.11 37.71h9.4M1465.6 33.74V37.68M1460.9 33.74h9.4M1460.9 37.68h9.4M1479.39 33.71V37.64M1474.69 33.71h9.4M1474.69 37.64h9.4M1493.18 33.67V37.61M1488.48 33.67h9.4M1488.48 37.61h9.4M1506.97 33.64V37.58M1502.27 33.64h9.4M1502.27 37.58h9.4" fill="none" stroke="#00ff00" stroke-width="0.8"/>
<path d="M914 54.31V58.95M914 70.85V94.67M909.3 54.31h9.4M909.3 94.67h9.4M927.79 54.09V58.72M927.79 70.62V94.44M923.09 54.09h9.4M923.09 94.44h9.4M941.58 53.86V58.5M941.58 70.4V94.21M936.88 53.86h9.4M936.88 94.21h9.4M955.37 53.63V58.27M955.37 70.17V93.98M950.67 53.63h9.4M950.67 93.98h9.4M969.16 53.4V58.04M969.16 69.94V93.76M964.46 53.4h9.4M964.46 93.76h9.4M982.95 53.18V57.81M982.95 69.71V93.53M978.25 53.18h9.4M978.25 93.53h9.4M996.74 52.95V57.59M996.74 69.49V93.3M992.04 52.95h9.4M992.04 93.3h9.4M1010.53 52.72V57.36M1010.53 69.26V93.07M1005.83 52.72h9.4M1005.83 93.07h9.4M1024.32 52.5V57.13M1024.32 69.03V92.85M1019.62 52.5h9.4M1019.62 92.85h9.4M1038.11 52.27V56.9M1038.11 68.8V92.62M1033.41 52.27h9.4M1033.41 92.62h9.4M1051.9 52.04V56.68M1051.9 68.58V92.39M1047.2 52.04h9.4M1047.2 92.39h9.4M1065.69 51.81V56.45M1065.69 68.35V92.17M1060.99 51.81h9.4M1060.99 92.17h9.4M1079.48 51.59V56.22M1079.48 68.12V91.94M1074.78 51.59h9.4M1074.78 91.94h9.4M1093.27 51.36V56M1093.27 67.9V91.71M1088.57 51.36h9.4M1088.57 91.71h9.4M1107.06 51.13V55.77M1107.06 67.67V91.48M1102.36 51.13h9.4M1102.36 91.48h9.4M1120.85 50.9V55.54M1120.85 67.44V91.26M1116.15 50.9h9.4M1116.15 91.26h9.4M1134.64 50.68V55.31M1134.64 67.21V91.03M1129.94 50.68h9.4M1129.94 91.03h9.4M1148.43 50.45V55.09M1148.43 66.99V90.8M1143.73 50.45h9.4M1143.73 90.8h9.4M1162.22 50.22V54.86M1162.22 66.76V90.57M1157.52 50.22h9.4M1157.52 90.57h9.4M1176.01 50V54.63M1176.01 66.53V90.35M1171.31 50h9.4M1171.31 90.35h9.4M1189.8 49.77V54.4M1189.8 66.3V90.12M1185.1 49.77h9.4M1185.1 90.12h9.4M1203.59 49.54V54.18M1203.59 66.08V89.89M1198.89 49.54h9.4M1198.89 89.89h9.4M1217.38 49.31V53.95M1217.38 65.85V89.67M1212.68 49.31h9.4M1212.68 89.67h9.4M1231.17 48.98V53.62M1231.17 65.52V89.33M1226.47 48.98h9.4M1226.47 89.33h9.4M1244.96 48.65V53.28M1244.96 65.18V89M1240.26 48.65h9.4M1240.26 89h9.4M1258.75 48.31V52.95M1258.75 64.85V88.67M1254.05 48.31h9.4M1254.05 88.67h9.4M1272.54 47.98V52.62M1272.54 64.52V88.33M1267.84 47.98h9.4M1267.84 88.33h9.4M1286.33 47.65V52.28M1286.33 64.18V88M1281.63 47.65h9.4M1281.63 88h9.4M1300.12 47.31V51.95M1300.12 63.85V87.67M1295.42 47.31h9.4M1295.42 87.67h9.4M1313.91 46.98V51.62M1313.91 63.52V87.33M1309.21 46.98h9.4M1309.21 87.33h9.4M1327.7 46.65V51.28M1327.7 63.18V87M1323 46.65h9.4M1323 87h9.4M1341.49 46.31V50.95M1341.49 62.85V86.67M1336.79 46.31h9.4M1336.79 86.67h9.4M1355.28 45.98V50.62M1355.28 62.52V86.33M1350.58 45.98h9.4M1350.58 86.33h9.4M1369.07 45.65V50.28M1369.07 62.18V86M1364.37 45.65h9.4M1364.37 86h9.4M1382.86 45.31V49.95M1382.86 61.85V85.67M1378.16 45.31h9.4M1378.16 85.67h9.4M1396.65 44.98V49.62M1396.65 61.52V85.33M1391.95 44.98h9.4M1391.95 85.33h9.4M1410.44 44.65V49.28M1410.44 61.18V85M1405.74 44.65h9.4M1405.74 85h9.4M1424.23 44.31V48.95M1424.23 60.85V84.67M1419.53 44.31h9.4M1419.53 84.67h9.4M1438.02 43.98V48.62M1438.02 60.52V84.33M1433.32 43.98h9.4M1433.32 84.33h9.4M1451.81 43.65V48.28M1451.81 60.18V84M1447.11 43.65h9.4M1447.11 84h9.4M1465.6 43.31V47.95M1465.6 59.85V83.67M1460.9 43.31h9.4M1460.9 83.67h9.4M1479.39 42.98V47.62M1479.39 59.52V83.33M1474.69 42.98h9.4M1474.69 83.33h9.4M1493.18 42.65V47.28M1493.18 59.18V83M1488.48 42.65h9.4M1488.48 83h9.4M1506.97 42.31V46.95M1506.97 58.85V82.67M1502.27 42.31h9.4M1502.27 82.67h9.4" fill="none" stroke="#0000ff" stroke-width="0.8"/>
<path d="M914 59.95V64.45M914 76.35V98.89M909.3 59.95h9.4M909.3 98.89h9.4M927.79 59.88V64.37M927.79 76.27V98.72M923.09 59.88h9.4M923.09 98.72h9.4M941.58 59.81V64.29M941.58 76.19V98.55M936.88 59.81h9.4M936.88 98.55h9.4M955.37 59.74V64.2M955.37 76.1V98.38M950.67 59.74h9.4M950.67 98.38h9.4M969.16 59.66V64.12M969.16 76.02V98.21M964.46 59.66h9.4M964.46 98.21h9.4M982.95 59.59V64.04M982.95 75.94V98.04M978.25 59.59h9.4M978.25 98.04h9.4M996.74 59.52V63.96M996.74 75.86V97.87M992.04 59.52h9.4M992.04 97.87h9.4M1010.53 59.45V63.88M1010.53 75.78V97.71M1005.83 59.45h9.4M1005.83 97.71h9.4M1024.32 59.38V63.8M1024.32 75.7V97.54M1019.62 59.38h9.4M1019.62 97.54h9.4M1038.11 59.3V63.71M1038.11 75.61V97.37M1033.41 59.3h9.4M1033.41 97.37h9.4M1051.9 59.23V63.63M1051.9 75.53V97.21M1047.2 59.23h9.4M1047.2 97.21h9.4M1065.69 59.16V63.55M1065.69 75.45V97.04M1060.99 59.16h9.4M1060.99 97.04h9.4M1079.48 59.09V63.47M1079.48 75.37V96.88M1074.78 59.09h9.4M1074.78 96.88h9.4M1093.27 59.02V63.39M1093.27 75.29V96.71M1088.57 59.02h9.4M1088.57 96.71h9.4M1107.06 58.95V63.3M1107.06 75.2V96.55M1102.36 58.95h9.4M1102.36 96.55h9.4M1120.85 58.87V63.22M1120.85 75.12V96.38M1116.15 58.87h9.4M1116.15 96.38h9.4M1134.64 58.8V63.14M1134.64 75.04V96.22M1129.94 58.8h9.4M1129.94 96.22h9.4M1148.43 58.73V63.06M1148.43 74.96V96.06M1143.73 58.73h9.4M1143.73 96.06h9.4M1162.22 58.66V62.98M1162.22 74.88V95.89M1157.52 58.66h9.4M1157.52 95.89h9.4M1176.01 58.59V62.9M1176.01 74.8V95.73M1171.31 58.59h9.4M1171.31 95.73h9.4M1189.8 58.51V62.81M1189.8 74.71V95.57M1185.1 58.51h9.4M1185.1 95.57h9.4M1203.59 58.44V62.73M1203.59 74.63V95.41M1198.89 58.44h9.4M1198.89 95.41h9.4M1217.38 58.37V62.65M1217.38 74.55V95.25M1212.68 58.37h9.4M1212.68 95.25h9.4M1231.17 58.46V62.71M1231.17 74.61V95.06M1226.47 58.46h9.4M1226.47 95.06h9.4M1244.96 58.54V62.76M1244.96 74.66V94.87M1240.26 58.54h9.4M1240.26 94.87h9.4M1258.75 58.63V62.82M1258.75 74.72V94.69M1254.05 58.63h9.4M1254.05 94.69h9.4M1272.54 58.72V62.87M1272.54 74.77V94.51M1267.84 58.72h9.4M1267.84 94.51h9.4M1286.33 58.8V62.93M1286.33 74.83V94.33M1281.63 58.8h9.4M1281.63 94.33h9.4M1300.12 58.89V62.98M1300.12 74.88V94.16M1295.42 58.89h9.4M1295.42 94.16h9.4M1313.91 58.98V63.04M1313.91 74.94V93.99M1309.21 58.98h9.4M1309.21 93.99h9.4M1327.7 59.07V63.09M1327.7 74.99V93.82M1323 59.07h9.4M1323 93.82h9.4M1341.49 59.15V63.15M1341.49 75.05V93.65M1336.79 59.15h9.4M1336.79 93.65h9.4M1355.28 59.24V63.21M1355.28 75.11V93.49M1350.58 59.24h9.4M1350.58 93.49h9.4M1369.07 59.36V63.26M1369.07 75.16V93.08M1364.37 59.36h9.4M1364.37 93.08h9.4M1382.86 59.49V63.32M1382.86 75.22V92.69M1378.16 59.49h9.4M1378.16 92.69h9.4M1396.65 59.61V63.37M1396.65 75.27V92.3M1391.95 59.61h9.4M1391.95 92.3h9.4M1410.44 59.74V63.43M1410.44 75.33V91.93M1405.74 59.74h9.4M1405.74 91.93h9.4M1424.23 59.86V63.48M1424.23 75.38V91.56M1419.53 59.86h9.4M1419.53 91.56h9.4M1438.02 59.99V63.54M1438.02 75.44V91.21M1433.32 59.99h9.4M1433.32 91.21h9.4M1451.81 60.12V63.59M1451.81 75.49V90.86M1447.11 60.12h9.4M1447.11 90.86h9.4M1465.6 60.24V63.65M1465.6 75.55V90.53M1460.9 60.24h9.4M1460.9 90.53h9.4M1479.39 60.75V64.08M1479.39 75.98V90.58M1474.69 60.75h9.4M1474.69 90.58h9.4M1493.18 61.25V64.52M1493.18 76.42V90.63M1488.48 61.25h9.4M1488.48 90.63h9.4M1506.97 61.76V64.95M1506.97 76.85V90.7M1502.27 61.76h9.4M1502.27 90.7h9.4" fill="none" stroke="#0000ff" stroke-width="0.8"/>
<path d="M927.79 390.1V399.1M927.79 411.05V510.4M923.09 390.1h9.4M941.58 420V427.6M936.88 420h9.4M936.88 427.6h9.4M955.37 428.95V430.6M950.67 417.6h9.4M950.67 430.6h9.4M969.16 420.6V422.1M969.16 434.05V447.5M964.46 420.6h9.4M964.46 447.5h9.4M996.74 363.3V417.6M996.74 429.55V510.4M992.04 363.3h9.4M1024.32 410.1V417.7M1019.62 410.1h9.4M1019.62 417.7h9.4" fill="none" stroke="#ff0000" stroke-width="0.8"/>
<path d="M914 249.9V254.5M910.8 249.9h6.4M910.8 254.5h6.4M927.79 247.2V251.8M924.59 247.2h6.4M924.59 251.8h6.4M941.58 244.6V249.2M938.38 244.6h6.4M938.38 249.2h6.4M955.37 246.6V251.2M952.17 246.6h6.4M952.17 251.2h6.4M969.16 254.75V270.6M965.96 243.4h6.4M965.96 270.6h6.4M982.95 241.2V245.8M979.75 241.2h6.4M979.75 245.8h6.4M996.74 239.6V244.2M993.54 239.6h6.4M993.54 244.2h6.4M1010.53 238.6V243.2M1007.33 238.6h6.4M1007.33 243.2h6.4M1024.32 235.2V239.8M1021.12 235.2h6.4M1021.12 239.8h6.4M1038.11 230.6V235.2M1034.91 230.6h6.4M1034.91 235.2h6.4M1051.9 228.3V232.9M1048.7 228.3h6.4M1048.7 232.9h6.4M1065.69 224.86V229.46M1062.49 224.86h6.4M1062.49 229.46h6.4M1079.48 221.41V226.01M1076.28 221.41h6.4M1076.28 226.01h6.4M1093.27 217.97V222.57M1090.07 217.97h6.4M1090.07 222.57h6.4M1107.06 214.52V219.12M1103.86 214.52h6.4M1103.86 219.12h6.4M1120.85 211.08V215.68M1117.65 211.08h6.4M1117.65 215.68h6.4M1134.64 207.63V212.23M1131.44 207.63h6.4M1131.44 212.23h6.4M1148.43 204.19V208.79M1145.23 204.19h6.4M1145.23 208.79h6.4M1162.22 200.74V205.34M1159.02 200.74h6.4M1159.02 205.34h6.4M1176.01 197.3V201.9M1172.81 197.3h6.4M1172.81 201.9h6.4M1189.8 193.62V198.22M1186.6 193.62h6.4M1186.6 198.22h6.4M1203.59 189.95V194.55M1200.39 189.95h6.4M1200.39 194.55h6.4M1217.38 186.28V190.88M1214.18 186.28h6.4M1214.18 190.88h6.4M1231.17 182.6V187.2M1227.97 182.6h6.4M1227.97 187.2h6.4M1244.96 178.93V183.53M1241.76 178.93h6.4M1241.76 183.53h6.4M1258.75 175.25V179.85M1255.55 175.25h6.4M1255.55 179.85h6.4M1272.54 171.58V176.18M1269.34 171.58h6.4M1269.34 176.18h6.4M1286.33 167.9V172.5M1283.13 167.9h6.4M1283.13 172.5h6.4M1300.12 164.35V168.95M1296.92 164.35h6.4M1296.92 168.95h6.4M1313.91 160.79V165.39M1310.71 160.79h6.4M1310.71 165.39h6.4M1327.7 157.24V161.84M1324.5 157.24h6.4M1324.5 161.84h6.4M1341.49 153.68V158.28M1338.29 153.68h6.4M1338.29 158.28h6.4M1355.28 150.13V154.73M1352.08 150.13h6.4M1352.08 154.73h6.4M1369.07 146.57V151.17M1365.87 146.57h6.4M1365.87 151.17h6.4M1382.86 143.02V147.62M1379.66 143.02h6.4M1379.66 147.62h6.4M1396.65 139.46V144.06M1393.45 139.46h6.4M1393.45 144.06h6.4M1410.44 135.91V140.51M1407.24 135.91h6.4M1407.24 140.51h6.4M1424.23 132.35V136.95M1421.03 132.35h6.4M1421.03 136.95h6.4M1438.02 128.8V133.4M1434.82 128.8h6.4M1434.82 133.4h6.4M1451.81 122.6V127.2M1448.61 122.6h6.4M1448.61 127.2h6.4M1465.6 118.88V123.48M1462.4 118.88h6.4M1462.4 123.48h6.4M1479.39 115.15V119.75M1476.19 115.15h6.4M1476.19 119.75h6.4M1493.18 111.42V116.03M1489.98 111.42h6.4M1489.98 116.03h6.4M1506.97 107.7V112.3M1503.77 107.7h6.4M1503.77 112.3h6.4" fill="none" stroke="#ff0000" stroke-width="0.8"/>
<path d="M914 284V297.3M914 307.7V510.4M909.3 284h9.4M941.58 444.3V448.1M936.88 435.1h9.4M936.88 448.1h9.4M955.37 428V431.2M955.37 441.6V453.4M950.67 428h9.4M950.67 453.4h9.4M982.95 439.8V440.9M978.25 431.6h9.4M978.25 440.9h9.4M1281.63 355.6h9.4M1281.63 364.5h9.4M1300.12 361.15V361.7M1295.42 351.61h9.4M1295.42 361.7h9.4M1313.91 357.61V358.91M1309.21 347.66h9.4M1309.21 358.91h9.4M1327.7 354.06V355.64M1323 343.97h9.4M1323 355.64h9.4M1341.49 350.52V352.37M1336.79 340.28h9.4M1336.79 352.37h9.4M1355.28 346.97V349.1M1350.58 336.6h9.4M1350.58 349.1h9.4M1369.07 332.92V333.03M1369.07 343.43V345.83M1364.37 332.92h9.4M1364.37 345.83h9.4M1382.86 329.11V329.48M1382.86 339.88V342.84M1378.16 329.11h9.4M1378.16 342.84h9.4M1396.65 325.31V325.94M1396.65 336.34V339.86M1391.95 325.31h9.4M1391.95 339.86h9.4M1410.44 321.52V322.39M1410.44 332.79V336.87M1405.74 321.52h9.4M1405.74 336.87h9.4M1424.23 317.74V318.85M1424.23 329.25V333.89M1419.53 317.74h9.4M1419.53 333.89h9.4M1438.02 313.98V315.3M1438.02 325.7V330.9M1433.32 313.98h9.4M1433.32 330.9h9.4M1451.81 307.96V309.2M1451.81 319.6V324.6M1447.11 307.96h9.4M1447.11 324.6h9.4M1465.6 303.91V305.07M1465.6 315.47V320.27M1460.9 303.91h9.4M1460.9 320.27h9.4M1479.39 299.86V300.95M1479.39 311.35V315.95M1474.69 299.86h9.4M1474.69 315.95h9.4M1493.18 295.82V296.82M1493.18 307.22V311.62M1488.48 295.82h9.4M1488.48 311.62h9.4M1506.97 291.78V292.7M1506.97 303.1V307.3M1502.27 291.78h9.4M1502.27 307.3h9.4" fill="none" stroke="#000000" stroke-width="0.8"/>
<path d="M914 269.9V275.6M909.3 259.7h9.4M909.3 275.6h9.4M927.79 256.6V261.6M923.09 256.6h9.4M923.09 261.6h9.4M941.58 267.9V271.2M936.88 257.7h9.4M936.88 271.2h9.4M955.37 252.1V254.1M955.37 264.5V277.2M950.67 252.1h9.4M950.67 277.2h9.4M969.16 257.1V261.1M964.46 257.1h9.4M964.46 261.1h9.4M982.95 256.3V260.1M978.25 256.3h9.4M978.25 260.1h9.4M996.74 254.8V258.83M992.04 254.8h9.4M992.04 258.83h9.4M1010.53 250.7V254.96M1005.83 250.7h9.4M1005.83 254.96h9.4M1024.32 247.99V252.49M1019.62 247.99h9.4M1019.62 252.49h9.4M1038.11 242.59V247.32M1033.41 242.59h9.4M1033.41 247.32h9.4M1051.9 237.5V242.45M1047.2 237.5h9.4M1047.2 242.45h9.4M1065.69 234.17V239.34M1060.99 234.17h9.4M1060.99 239.34h9.4M1079.48 230.84V236.24M1074.78 230.84h9.4M1074.78 236.24h9.4M1093.27 227.51V233.14M1088.57 227.51h9.4M1088.57 233.14h9.4M1107.06 224.18V230.03M1102.36 224.18h9.4M1102.36 230.03h9.4M1120.85 220.85V226.93M1116.15 220.85h9.4M1116.15 226.93h9.4M1134.64 217.53V223.82M1129.94 217.53h9.4M1129.94 223.82h9.4M1148.43 214.21V220.72M1143.73 214.21h9.4M1143.73 220.72h9.4M1162.22 210.88V217.62M1157.52 210.88h9.4M1157.52 217.62h9.4M1176.01 207.56V214.51M1171.31 207.56h9.4M1171.31 214.51h9.4M1189.8 204.07V211.24M1185.1 204.07h9.4M1185.1 211.24h9.4M1203.59 200.59V207.97M1198.89 200.59h9.4M1198.89 207.97h9.4M1217.38 197.1V204.7M1212.68 197.1h9.4M1212.68 204.7h9.4M1231.17 193.55V201.54M1226.47 193.55h9.4M1226.47 201.54h9.4M1240.26 190h9.4M1240.26 198.38h9.4M1254.05 186.45h9.4M1254.05 195.22h9.4M1267.84 182.9h9.4M1267.84 192.06h9.4M1286.33 188.7V188.9M1281.63 179.36h9.4M1281.63 188.9h9.4M1300.12 185.05V185.52M1295.42 175.56h9.4M1295.42 185.52h9.4M1313.91 181.41V182.14M1309.21 171.77h9.4M1309.21 182.14h9.4M1327.7 177.76V178.76M1323 167.97h9.4M1323 178.76h9.4M1341.49 174.12V175.8M1336.79 163.97h9.4M1336.79 175.8h9.4M1355.28 159.98V160.07M1355.28 170.47V172.83M1350.58 159.98h9.4M1350.58 172.83h9.4M1369.07 156.02V156.43M1369.07 166.83V169.87M1364.37 156.02h9.4M1364.37 169.87h9.4M1382.86 152.07V152.78M1382.86 163.18V166.9M1378.16 152.07h9.4M1378.16 166.9h9.4M1396.65 148.13V149.14M1396.65 159.54V163.94M1391.95 148.13h9.4M1391.95 163.94h9.4M1410.44 144.49V145.49M1410.44 155.89V160.29M1405.74 144.49h9.4M1405.74 160.29h9.4M1424.23 140.84V141.85M1424.23 152.25V156.65M1419.53 140.84h9.4M1419.53 156.65h9.4M1438.02 137.2V138.2M1438.02 148.6V153M1433.32 137.2h9.4M1433.32 153h9.4M1451.81 131.5V132.5M1451.81 142.9V147.3M1447.11 131.5h9.4M1447.11 147.3h9.4M1465.6 127.32V128.32M1465.6 138.72V143.12M1460.9 127.32h9.4M1460.9 143.12h9.4M1479.39 123.15V124.15M1479.39 134.55V138.95M1474.69 123.15h9.4M1474.69 138.95h9.4M1493.18 118.97V119.97M1493.18 130.38V134.78M1488.48 118.97h9.4M1488.48 134.78h9.4M1506.97 114.8V115.8M1506.97 126.2V130.6M1502.27 114.8h9.4M1502.27 130.6h9.4" fill="none" stroke="#000000" stroke-width="0.8"/>
</g>
<path d="M93.5 21.3H697.5V507.2H93.5z" fill="none" stroke="#000" stroke-width="1.5"/>
<path d="M93.5 21.3h-8.6M93.5 49.6h-4.4M93.5 42.47h-4.4M93.5 37.41h-4.4M93.5 33.49h-4.4M93.5 30.28h-4.4M93.5 27.57h-4.4M93.5 25.22h-4.4M93.5 23.15h-4.4M93.5 61.79h-8.6M93.5 90.09h-4.4M93.5 82.96h-4.4M93.5 77.9h-4.4M93.5 73.98h-4.4M93.5 70.77h-4.4M93.5 68.06h-4.4M93.5 65.72h-4.4M93.5 63.64h-4.4M93.5 102.28h-8.6M93.5 130.59h-4.4M93.5 123.46h-4.4M93.5 118.4h-4.4M93.5 114.47h-4.4M93.5 111.27h-4.4M93.5 108.56h-4.4M93.5 106.21h-4.4M93.5 104.14h-4.4M93.5 142.78h-8.6M93.5 171.08h-4.4M93.5 163.95h-4.4M93.5 158.89h-4.4M93.5 154.96h-4.4M93.5 151.76h-4.4M93.5 149.05h-4.4M93.5 146.7h-4.4M93.5 144.63h-4.4M93.5 183.27h-8.6M93.5 211.57h-4.4M93.5 204.44h-4.4M93.5 199.38h-4.4M93.5 195.46h-4.4M93.5 192.25h-4.4M93.5 189.54h-4.4M93.5 187.19h-4.4M93.5 185.12h-4.4M93.5 223.76h-8.6M93.5 252.06h-4.4M93.5 244.93h-4.4M93.5 239.87h-4.4M93.5 235.95h-4.4M93.5 232.74h-4.4M93.5 230.03h-4.4M93.5 227.68h-4.4M93.5 225.61h-4.4M93.5 264.25h-8.6M93.5 292.55h-4.4M93.5 285.42h-4.4M93.5 280.36h-4.4M93.5 276.44h-4.4M93.5 273.23h-4.4M93.5 270.52h-4.4M93.5 268.17h-4.4M93.5 266.1h-4.4M93.5 304.74h-8.6M93.5 333.04h-4.4M93.5 325.91h-4.4M93.5 320.85h-4.4M93.5 316.93h-4.4M93.5 313.72h-4.4M93.5 311.01h-4.4M93.5 308.67h-4.4M93.5 306.59h-4.4M93.5 345.23h-8.6M93.5 373.54h-4.4M93.5 366.41h-4.4M93.5 361.35h-4.4M93.5 357.42h-4.4M93.5 354.22h-4.4M93.5 351.51h-4.4M93.5 349.16h-4.4M93.5 347.09h-4.4M93.5 385.73h-8.6M93.5 414.03h-4.4M93.5 406.9h-4.4M93.5 401.84h-4.4M93.5 397.91h-4.4M93.5 394.71h-4.4M93.5 392h-4.4M93.5 389.65h-4.4M93.5 387.58h-4.4M93.5 426.22h-8.6M93.5 454.52h-4.4M93.5 447.39h-4.4M93.5 442.33h-4.4M93.5 438.41h-4.4M93.5 435.2h-4.4M93.5 432.49h-4.4M93.5 430.14h-4.4M93.5 428.07h-4.4M93.5 466.71h-8.6M93.5 495.01h-4.4M93.5 487.88h-4.4M93.5 482.82h-4.4M93.5 478.9h-4.4M93.5 475.69h-4.4M93.5 472.98h-4.4M93.5 470.63h-4.4M93.5 468.56h-4.4M93.5 507.2h-8.6M93.5 507.2v8.8M175.08 507.2v4.5M222.8 507.2v4.5M256.66 507.2v4.5M282.92 507.2v4.5M304.38 507.2v4.5M322.52 507.2v4.5M338.24 507.2v4.5M352.1 507.2v4.5M364.5 507.2v8.8M446.08 507.2v4.5M493.8 507.2v4.5M527.66 507.2v4.5M553.92 507.2v4.5M575.38 507.2v4.5M593.52 507.2v4.5M609.24 507.2v4.5M623.1 507.2v4.5M635.5 507.2v8.8" fill="none" stroke="#000" stroke-width="1.5"/>
<text transform="translate(78.4 28.6) scale(0.93 1)" text-anchor="end" font-size="22.2">10<tspan font-size="15.4" dy="-8.6">4</tspan></text>
<text transform="translate(78.4 69.09) scale(0.93 1)" text-anchor="end" font-size="22.2">10<tspan font-size="15.4" dy="-8.6">3</tspan></text>
<text transform="translate(78.4 109.58) scale(0.93 1)" text-anchor="end" font-size="22.2">10<tspan font-size="15.4" dy="-8.6">2</tspan></text>
<text transform="translate(78.4 150.08) scale(0.93 1)" text-anchor="end" font-size="22.2">10<tspan font-size="15.4" dy="-8.6">1</tspan></text>
<text transform="translate(78.4 190.57) scale(0.93 1)" text-anchor="end" font-size="22.2">10<tspan font-size="15.4" dy="-8.6">0</tspan></text>
<text transform="translate(78.4 231.06) scale(0.93 1)" text-anchor="end" font-size="22.2">10<tspan font-size="15.4" dy="-8.6">-1</tspan></text>
<text transform="translate(78.4 271.55) scale(0.93 1)" text-anchor="end" font-size="22.2">10<tspan font-size="15.4" dy="-8.6">-2</tspan></text>
<text transform="translate(78.4 312.04) scale(0.93 1)" text-anchor="end" font-size="22.2">10<tspan font-size="15.4" dy="-8.6">-3</tspan></text>
<text transform="translate(78.4 352.53) scale(0.93 1)" text-anchor="end" font-size="22.2">10<tspan font-size="15.4" dy="-8.6">-4</tspan></text>
<text transform="translate(78.4 393.03) scale(0.93 1)" text-anchor="end" font-size="22.2">10<tspan font-size="15.4" dy="-8.6">-5</tspan></text>
<text transform="translate(78.4 433.52) scale(0.93 1)" text-anchor="end" font-size="22.2">10<tspan font-size="15.4" dy="-8.6">-6</tspan></text>
<text transform="translate(78.4 474.01) scale(0.93 1)" text-anchor="end" font-size="22.2">10<tspan font-size="15.4" dy="-8.6">-7</tspan></text>
<text transform="translate(78.4 514.5) scale(0.93 1)" text-anchor="end" font-size="22.2">10<tspan font-size="15.4" dy="-8.6">-8</tspan></text>
<text transform="translate(93.5 539) scale(0.95 1)" text-anchor="middle" font-size="22.2">1</text>
<text transform="translate(364.5 539) scale(0.95 1)" text-anchor="middle" font-size="22.2">10</text>
<text transform="translate(635.5 539) scale(0.95 1)" text-anchor="middle" font-size="22.2">100</text>
<text x="395.5" y="581.3" text-anchor="middle" font-size="25" letter-spacing="0.3"><tspan font-family="'Liberation Serif',serif">ω</tspan> (rad.s<tspan font-size="16" dy="-10.5">-1</tspan><tspan dy="10.5">)</tspan></text>
<text transform="translate(32.3 263.5) rotate(-90)" text-anchor="middle" font-size="25" letter-spacing="0.25">G', G" (Pa)</text>
<path d="M910.6 18.3H1522.6V510.4H910.6z" fill="none" stroke="#000" stroke-width="1.5"/>
<path d="M910.6 18.3h-8.86M910.6 46.96h-4.53M910.6 39.74h-4.53M910.6 34.62h-4.53M910.6 30.64h-4.53M910.6 27.4h-4.53M910.6 24.65h-4.53M910.6 22.27h-4.53M910.6 20.18h-4.53M910.6 59.31h-8.86M910.6 87.97h-4.53M910.6 80.75h-4.53M910.6 75.63h-4.53M910.6 71.65h-4.53M910.6 68.41h-4.53M910.6 65.66h-4.53M910.6 63.28h-4.53M910.6 61.18h-4.53M910.6 100.32h-8.86M910.6 128.98h-4.53M910.6 121.76h-4.53M910.6 116.64h-4.53M910.6 112.66h-4.53M910.6 109.41h-4.53M910.6 106.67h-4.53M910.6 104.29h-4.53M910.6 102.19h-4.53M910.6 141.33h-8.86M910.6 169.99h-4.53M910.6 162.77h-4.53M910.6 157.64h-4.53M910.6 153.67h-4.53M910.6 150.42h-4.53M910.6 147.68h-4.53M910.6 145.3h-4.53M910.6 143.2h-4.53M910.6 182.33h-8.86M910.6 211h-4.53M910.6 203.78h-4.53M910.6 198.65h-4.53M910.6 194.68h-4.53M910.6 191.43h-4.53M910.6 188.69h-4.53M910.6 186.31h-4.53M910.6 184.21h-4.53M910.6 223.34h-8.86M910.6 252.01h-4.53M910.6 244.78h-4.53M910.6 239.66h-4.53M910.6 235.69h-4.53M910.6 232.44h-4.53M910.6 229.69h-4.53M910.6 227.32h-4.53M910.6 225.22h-4.53M910.6 264.35h-8.86M910.6 293.01h-4.53M910.6 285.79h-4.53M910.6 280.67h-4.53M910.6 276.69h-4.53M910.6 273.45h-4.53M910.6 270.7h-4.53M910.6 268.32h-4.53M910.6 266.23h-4.53M910.6 305.36h-8.86M910.6 334.02h-4.53M910.6 326.8h-4.53M910.6 321.68h-4.53M910.6 317.7h-4.53M910.6 314.46h-4.53M910.6 311.71h-4.53M910.6 309.33h-4.53M910.6 307.23h-4.53M910.6 346.37h-8.86M910.6 375.03h-4.53M910.6 367.81h-4.53M910.6 362.69h-4.53M910.6 358.71h-4.53M910.6 355.46h-4.53M910.6 352.72h-4.53M910.6 350.34h-4.53M910.6 348.24h-4.53M910.6 387.38h-8.86M910.6 416.04h-4.53M910.6 408.82h-4.53M910.6 403.69h-4.53M910.6 399.72h-4.53M910.6 396.47h-4.53M910.6 393.73h-4.53M910.6 391.35h-4.53M910.6 389.25h-4.53M910.6 428.38h-8.86M910.6 457.05h-4.53M910.6 449.83h-4.53M910.6 444.7h-4.53M910.6 440.73h-4.53M910.6 437.48h-4.53M910.6 434.74h-4.53M910.6 432.36h-4.53M910.6 430.26h-4.53M910.6 469.39h-8.86M910.6 498.06h-4.53M910.6 490.83h-4.53M910.6 485.71h-4.53M910.6 481.74h-4.53M910.6 478.49h-4.53M910.6 475.74h-4.53M910.6 473.37h-4.53M910.6 471.27h-4.53M910.6 510.4h-8.86M910.6 510.4v9.06M993.08 510.4v4.63M1041.33 510.4v4.63M1075.56 510.4v4.63M1102.12 510.4v4.63M1123.81 510.4v4.63M1142.16 510.4v4.63M1158.05 510.4v4.63M1172.06 510.4v4.63M1184.6 510.4v9.06M1267.08 510.4v4.63M1315.33 510.4v4.63M1349.56 510.4v4.63M1376.12 510.4v4.63M1397.81 510.4v4.63M1416.16 510.4v4.63M1432.05 510.4v4.63M1446.06 510.4v4.63M1458.6 510.4v9.06" fill="none" stroke="#000" stroke-width="1.5"/>
<text transform="translate(894.6 25.82) scale(0.93 1)" text-anchor="end" font-size="22.2">10<tspan font-size="15.4" dy="-8.86">4</tspan></text>
<text transform="translate(894.6 66.83) scale(0.93 1)" text-anchor="end" font-size="22.2">10<tspan font-size="15.4" dy="-8.86">3</tspan></text>
<text transform="translate(894.6 107.84) scale(0.93 1)" text-anchor="end" font-size="22.2">10<tspan font-size="15.4" dy="-8.86">2</tspan></text>
<text transform="translate(894.6 148.84) scale(0.93 1)" text-anchor="end" font-size="22.2">10<tspan font-size="15.4" dy="-8.86">1</tspan></text>
<text transform="translate(894.6 189.85) scale(0.93 1)" text-anchor="end" font-size="22.2">10<tspan font-size="15.4" dy="-8.86">0</tspan></text>
<text transform="translate(894.6 230.86) scale(0.93 1)" text-anchor="end" font-size="22.2">10<tspan font-size="15.4" dy="-8.86">-1</tspan></text>
<text transform="translate(894.6 271.87) scale(0.93 1)" text-anchor="end" font-size="22.2">10<tspan font-size="15.4" dy="-8.86">-2</tspan></text>
<text transform="translate(894.6 312.88) scale(0.93 1)" text-anchor="end" font-size="22.2">10<tspan font-size="15.4" dy="-8.86">-3</tspan></text>
<text transform="translate(894.6 353.89) scale(0.93 1)" text-anchor="end" font-size="22.2">10<tspan font-size="15.4" dy="-8.86">-4</tspan></text>
<text transform="translate(894.6 394.89) scale(0.93 1)" text-anchor="end" font-size="22.2">10<tspan font-size="15.4" dy="-8.86">-5</tspan></text>
<text transform="translate(894.6 435.9) scale(0.93 1)" text-anchor="end" font-size="22.2">10<tspan font-size="15.4" dy="-8.86">-6</tspan></text>
<text transform="translate(894.6 476.91) scale(0.93 1)" text-anchor="end" font-size="22.2">10<tspan font-size="15.4" dy="-8.86">-7</tspan></text>
<text transform="translate(894.6 517.92) scale(0.93 1)" text-anchor="end" font-size="22.2">10<tspan font-size="15.4" dy="-8.86">-8</tspan></text>
<text transform="translate(910.6 542.7) scale(0.95 1)" text-anchor="middle" font-size="22.2">1</text>
<text transform="translate(1184.6 542.7) scale(0.95 1)" text-anchor="middle" font-size="22.2">10</text>
<text transform="translate(1458.6 542.7) scale(0.95 1)" text-anchor="middle" font-size="22.2">100</text>
<text x="1216.6" y="584.9" text-anchor="middle" font-size="25" letter-spacing="0.3"><tspan font-family="'Liberation Serif',serif">ω</tspan> (rad.s<tspan font-size="16" dy="-10.5">-1</tspan><tspan dy="10.5">)</tspan></text>
<text transform="translate(847.8 263) rotate(-90)" text-anchor="middle" font-size="25" letter-spacing="0.25">G', G" (Pa)</text>
<text x="729.8" y="143.3" font-size="17.4">pH 6.5</text>
<path d="M718.8 155.6h10v10h-10z" fill="#ff8000" stroke="#ff8000" stroke-width="0.6"/>
<text x="750.6" y="166.4" font-size="17.4">G' 0h</text>
<path d="M718.8 178.25h10v10h-10z" fill="#fff" stroke="#ff8000" stroke-width="1"/>
<text x="750.6" y="189.05" font-size="17.4">G" 0h</text>
<path d="M723.8 199.68L730.4 211.12L717.2 211.12z" fill="#00ff00" stroke="#00ff00" stroke-width="0.6"/>
<text x="750.6" y="211.7" font-size="17.4">G' 1h</text>
<path d="M723.8 222.33L730.4 233.77L717.2 233.77z" fill="#fff" stroke="#00ff00" stroke-width="1"/>
<text x="750.6" y="234.35" font-size="17.4">G" 1h</text>
<path d="M723.8 244.4L730.6 251.2L723.8 258L717 251.2z" fill="#0000ff" stroke="#0000ff" stroke-width="0.6"/>
<text x="750.6" y="257" font-size="17.4">G' 3h</text>
<path d="M723.8 267.05L730.6 273.85L723.8 280.65L717 273.85z" fill="#fff" stroke="#0000ff" stroke-width="1"/>
<text x="750.6" y="279.65" font-size="17.4">G" 3h</text>
<path d="M723.8 289.9L725.28 294.46L730.08 294.46L726.2 297.28L727.68 301.84L723.8 299.02L719.92 301.84L721.4 297.28L717.52 294.46L722.32 294.46z" fill="#8000ff" stroke="#8000ff" stroke-width="0.6"/>
<text x="750.6" y="302.3" font-size="17.4">G' 6h</text>
<path d="M723.8 312.55L725.28 317.11L730.08 317.11L726.2 319.93L727.68 324.49L723.8 321.67L719.92 324.49L721.4 319.93L717.52 317.11L722.32 317.11z" fill="#fff" stroke="#8000ff" stroke-width="1"/>
<text x="750.6" y="324.95" font-size="17.4">G" 6h</text>
<path d="M718.8 336.8h10v10h-10z" fill="#000000" stroke="#000000" stroke-width="0.6"/>
<text x="750.6" y="347.6" font-size="17.4">G' 24h</text>
<path d="M718.8 359.45h10v10h-10z" fill="#fff" stroke="#000000" stroke-width="1"/>
<text x="750.6" y="370.25" font-size="17.4">G" 24h</text>
<text x="1555.8" y="151.2" font-size="17.8">pH 7.4</text>
<path d="M1544.8 167.6a5.7 5.7 0 1 0 11.4 0a5.7 5.7 0 1 0 -11.4 0z" fill="#ff8000" stroke="#ff8000" stroke-width="0.6"/>
<text x="1577" y="173.4" font-size="17.8">G' 0h</text>
<path d="M1544.8 190.5a5.7 5.7 0 1 0 11.4 0a5.7 5.7 0 1 0 -11.4 0z" fill="#fff" stroke="#ff8000" stroke-width="1"/>
<text x="1577" y="196.3" font-size="17.8">G" 0h</text>
<path d="M1550.5 207.01L1557.3 218.79L1543.7 218.79z" fill="#00ff00" stroke="#00ff00" stroke-width="0.6"/>
<text x="1577" y="219.2" font-size="17.8">G' 1h</text>
<path d="M1550.5 229.91L1557.3 241.69L1543.7 241.69z" fill="#fff" stroke="#00ff00" stroke-width="1"/>
<text x="1577" y="242.1" font-size="17.8">G" 1h</text>
<path d="M1550.5 253.3L1556.05 256.25L1556.05 262.15L1550.5 265.1L1544.95 262.15L1544.95 256.25z" fill="#0000ff" stroke="#0000ff" stroke-width="0.6"/>
<text x="1577" y="265" font-size="17.8">G' 3h</text>
<path d="M1550.5 276.2L1556.05 279.15L1556.05 285.05L1550.5 288L1544.95 285.05L1544.95 279.15z" fill="#fff" stroke="#0000ff" stroke-width="1"/>
<text x="1577" y="287.9" font-size="17.8">G" 3h</text>
<path d="M1550.5 298.1L1552.05 302.87L1557.06 302.87L1553.01 305.81L1554.56 310.58L1550.5 307.64L1546.44 310.58L1547.99 305.81L1543.94 302.87L1548.95 302.87z" fill="#ff0000" stroke="#ff0000" stroke-width="0.6"/>
<text x="1577" y="310.8" font-size="17.8">G' 6h</text>
<path d="M1550.5 321L1552.05 325.77L1557.06 325.77L1553.01 328.71L1554.56 333.48L1550.5 330.54L1546.44 333.48L1547.99 328.71L1543.94 325.77L1548.95 325.77z" fill="#fff" stroke="#ff0000" stroke-width="1"/>
<text x="1577" y="333.7" font-size="17.8">G" 6h</text>
<path d="M1545.5 345.8h10v10h-10z" fill="#000000" stroke="#000000" stroke-width="0.6"/>
<text x="1577" y="356.6" font-size="17.8">G' 24h</text>
<path d="M1545.5 368.7h10v10h-10z" fill="#fff" stroke="#000000" stroke-width="1"/>
<text x="1577" y="379.5" font-size="17.8">G" 24h</text>
</svg>
</body>
</html>
